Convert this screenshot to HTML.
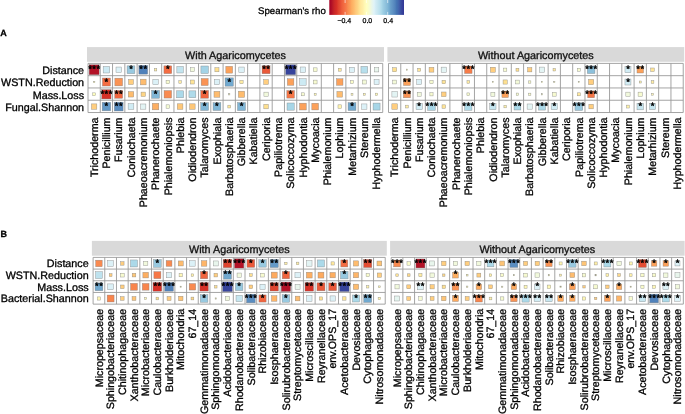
<!DOCTYPE html>
<html><head><meta charset="utf-8"><style>
html,body{margin:0;padding:0;background:#fff;}
svg{display:block;will-change:transform;}
text{font-family:"Liberation Sans",sans-serif;text-rendering:geometricPrecision;stroke:currentColor;stroke-width:0.3px;}
</style></head><body>
<svg width="685" height="414" viewBox="0 0 685 414">
<rect width="685" height="414" fill="#fff"/>
<defs><linearGradient id="cb" x1="0" x2="1" y1="0" y2="0">
<stop offset="0" stop-color="#a50026"/>
<stop offset="0.03" stop-color="#b11027"/>
<stop offset="0.05" stop-color="#be1d27"/>
<stop offset="0.07" stop-color="#ca2727"/>
<stop offset="0.1" stop-color="#d73027"/>
<stop offset="0.12" stop-color="#de422e"/>
<stop offset="0.15" stop-color="#e65135"/>
<stop offset="0.17" stop-color="#ed5f3c"/>
<stop offset="0.2" stop-color="#f46d43"/>
<stop offset="0.23" stop-color="#f77e4a"/>
<stop offset="0.25" stop-color="#f98f52"/>
<stop offset="0.28" stop-color="#fb9f59"/>
<stop offset="0.3" stop-color="#fdae61"/>
<stop offset="0.33" stop-color="#febb6d"/>
<stop offset="0.35" stop-color="#fec778"/>
<stop offset="0.38" stop-color="#fed484"/>
<stop offset="0.4" stop-color="#fee090"/>
<stop offset="0.42" stop-color="#ffe89c"/>
<stop offset="0.45" stop-color="#ffefa7"/>
<stop offset="0.47" stop-color="#fff7b3"/>
<stop offset="0.5" stop-color="#ffffbf"/>
<stop offset="0.53" stop-color="#f8fcce"/>
<stop offset="0.55" stop-color="#f1f9dc"/>
<stop offset="0.57" stop-color="#e9f6ea"/>
<stop offset="0.6" stop-color="#e0f3f8"/>
<stop offset="0.62" stop-color="#d3ecf4"/>
<stop offset="0.65" stop-color="#c6e6f0"/>
<stop offset="0.68" stop-color="#b9dfed"/>
<stop offset="0.7" stop-color="#abd9e9"/>
<stop offset="0.72" stop-color="#9ecee3"/>
<stop offset="0.75" stop-color="#90c3dd"/>
<stop offset="0.78" stop-color="#82b8d7"/>
<stop offset="0.8" stop-color="#74add1"/>
<stop offset="0.82" stop-color="#699fca"/>
<stop offset="0.85" stop-color="#5e91c3"/>
<stop offset="0.88" stop-color="#5283bb"/>
<stop offset="0.9" stop-color="#4575b4"/>
<stop offset="0.93" stop-color="#4265ac"/>
<stop offset="0.95" stop-color="#3d55a5"/>
<stop offset="0.97" stop-color="#38469d"/>
<stop offset="1" stop-color="#313695"/>
</linearGradient></defs>
<rect x="329.3" y="0" width="74.7" height="14.9" fill="url(#cb)"/>
<path d="M345.12 0V3M345.12 11.9V14.9" stroke="#fff" stroke-width="0.6"/>
<path d="M366.4 0V3M366.4 11.9V14.9" stroke="#fff" stroke-width="0.6"/>
<path d="M387.68 0V3M387.68 11.9V14.9" stroke="#fff" stroke-width="0.6"/>
<text x="344.3" y="22.6" text-anchor="middle" font-size="7" fill="#333">−0.4</text>
<text x="367.4" y="22.6" text-anchor="middle" font-size="7" fill="#333">0.0</text>
<text x="388.2" y="22.6" text-anchor="middle" font-size="7" fill="#333">0.4</text>
<text x="258.1" y="13.9" font-size="9.65" fill="#000">Spearman's rho</text>
<text x="0.3" y="35.8" font-size="9" font-weight="bold" fill="#000">A</text>
<text x="0.6" y="236.6" font-size="9" font-weight="bold" fill="#000">B</text>
<rect x="87" y="47.1" width="297" height="14.7" fill="#d9d9d9"/>
<text x="235.5" y="59.1" text-anchor="middle" font-size="10.8" fill="#1a1a1a">With Agaricomycetes</text>
<rect x="88" y="63.4" width="294.72" height="49.12" fill="#fff"/>
<rect x="89.14" y="64.74" width="10" height="10" fill="#b31227" stroke="#7a7a7a" stroke-opacity="0.8" stroke-width="0.45"/>
<rect x="103.17" y="66.49" width="6.5" height="6.5" fill="#cdeaf3" stroke="#7a7a7a" stroke-opacity="0.8" stroke-width="0.45"/>
<rect x="116" y="67.04" width="5.4" height="5.4" fill="#dcf1f7" stroke="#7a7a7a" stroke-opacity="0.8" stroke-width="0.45"/>
<rect x="127.08" y="65.84" width="7.8" height="7.8" fill="#98c9e0" stroke="#7a7a7a" stroke-opacity="0.8" stroke-width="0.45"/>
<rect x="138.86" y="65.34" width="8.8" height="8.8" fill="#5081ba" stroke="#7a7a7a" stroke-opacity="0.8" stroke-width="0.45"/>
<rect x="154.29" y="68.49" width="2.5" height="2.5" fill="#ffefa7" stroke="#7a7a7a" stroke-opacity="0.8" stroke-width="0.45"/>
<rect x="163.92" y="65.84" width="7.8" height="7.8" fill="#f46d43" stroke="#7a7a7a" stroke-opacity="0.8" stroke-width="0.45"/>
<rect x="176.85" y="66.49" width="6.5" height="6.5" fill="#c2e4ef" stroke="#7a7a7a" stroke-opacity="0.8" stroke-width="0.45"/>
<rect x="190.38" y="67.74" width="4" height="4" fill="#f1f9dc" stroke="#7a7a7a" stroke-opacity="0.8" stroke-width="0.45"/>
<rect x="200.91" y="65.99" width="7.5" height="7.5" fill="#a3d3e6" stroke="#7a7a7a" stroke-opacity="0.8" stroke-width="0.45"/>
<rect x="214.89" y="67.69" width="4.1" height="4.1" fill="#fee090" stroke="#7a7a7a" stroke-opacity="0.8" stroke-width="0.45"/>
<rect x="225.82" y="66.34" width="6.8" height="6.8" fill="#fca15a" stroke="#7a7a7a" stroke-opacity="0.8" stroke-width="0.45"/>
<rect x="238.8" y="67.04" width="5.4" height="5.4" fill="#dcf1f7" stroke="#7a7a7a" stroke-opacity="0.8" stroke-width="0.45"/>
<rect x="262.06" y="65.74" width="8" height="8" fill="#ea5939" stroke="#7a7a7a" stroke-opacity="0.8" stroke-width="0.45"/>
<rect x="285.62" y="64.74" width="10" height="10" fill="#37449c" stroke="#7a7a7a" stroke-opacity="0.8" stroke-width="0.45"/>
<rect x="300.15" y="66.99" width="5.5" height="5.5" fill="#dcf1f7" stroke="#7a7a7a" stroke-opacity="0.8" stroke-width="0.45"/>
<rect x="313.28" y="67.84" width="3.8" height="3.8" fill="#f7fbd0" stroke="#7a7a7a" stroke-opacity="0.8" stroke-width="0.45"/>
<rect x="338.29" y="68.29" width="2.9" height="2.9" fill="#ffe99d" stroke="#7a7a7a" stroke-opacity="0.8" stroke-width="0.45"/>
<rect x="349.52" y="67.24" width="5" height="5" fill="#dcf1f7" stroke="#7a7a7a" stroke-opacity="0.8" stroke-width="0.45"/>
<rect x="360.95" y="66.39" width="6.7" height="6.7" fill="#b7dfec" stroke="#7a7a7a" stroke-opacity="0.8" stroke-width="0.45"/>
<rect x="374.38" y="67.54" width="4.4" height="4.4" fill="#e8f5ec" stroke="#7a7a7a" stroke-opacity="0.8" stroke-width="0.45"/>
<rect x="93.39" y="81.27" width="1.5" height="1.5" fill="#fffbb8" stroke="#7a7a7a" stroke-opacity="0.8" stroke-width="0.45"/>
<rect x="102.42" y="78.02" width="8" height="8" fill="#f46d43" stroke="#7a7a7a" stroke-opacity="0.8" stroke-width="0.45"/>
<rect x="114.85" y="78.17" width="7.7" height="7.7" fill="#fa9354" stroke="#7a7a7a" stroke-opacity="0.8" stroke-width="0.45"/>
<rect x="128.48" y="79.52" width="5" height="5" fill="#ffce7f" stroke="#7a7a7a" stroke-opacity="0.8" stroke-width="0.45"/>
<rect x="140.41" y="79.17" width="5.7" height="5.7" fill="#febc6e" stroke="#7a7a7a" stroke-opacity="0.8" stroke-width="0.45"/>
<rect x="152.84" y="79.32" width="5.4" height="5.4" fill="#dcf1f7" stroke="#7a7a7a" stroke-opacity="0.8" stroke-width="0.45"/>
<rect x="166.07" y="80.27" width="3.5" height="3.5" fill="#f7fbd0" stroke="#7a7a7a" stroke-opacity="0.8" stroke-width="0.45"/>
<rect x="178.8" y="80.72" width="2.6" height="2.6" fill="#ffeda4" stroke="#7a7a7a" stroke-opacity="0.8" stroke-width="0.45"/>
<rect x="190.38" y="80.02" width="4" height="4" fill="#fee497" stroke="#7a7a7a" stroke-opacity="0.8" stroke-width="0.45"/>
<rect x="201.16" y="78.52" width="7" height="7" fill="#fa9354" stroke="#7a7a7a" stroke-opacity="0.8" stroke-width="0.45"/>
<rect x="214.29" y="79.37" width="5.3" height="5.3" fill="#dcf1f7" stroke="#7a7a7a" stroke-opacity="0.8" stroke-width="0.45"/>
<rect x="225.07" y="77.87" width="8.3" height="8.3" fill="#71a9cf" stroke="#7a7a7a" stroke-opacity="0.8" stroke-width="0.45"/>
<rect x="239.85" y="80.37" width="3.3" height="3.3" fill="#ffeda4" stroke="#7a7a7a" stroke-opacity="0.8" stroke-width="0.45"/>
<rect x="263.66" y="79.62" width="4.8" height="4.8" fill="#ffce7f" stroke="#7a7a7a" stroke-opacity="0.8" stroke-width="0.45"/>
<rect x="287.37" y="78.77" width="6.5" height="6.5" fill="#fca15a" stroke="#7a7a7a" stroke-opacity="0.8" stroke-width="0.45"/>
<rect x="299.65" y="78.77" width="6.5" height="6.5" fill="#cdeaf3" stroke="#7a7a7a" stroke-opacity="0.8" stroke-width="0.45"/>
<rect x="313.28" y="80.12" width="3.8" height="3.8" fill="#f7fbd0" stroke="#7a7a7a" stroke-opacity="0.8" stroke-width="0.45"/>
<rect x="336.49" y="78.77" width="6.5" height="6.5" fill="#fca15a" stroke="#7a7a7a" stroke-opacity="0.8" stroke-width="0.45"/>
<rect x="350.57" y="80.57" width="2.9" height="2.9" fill="#fbfdc7" stroke="#7a7a7a" stroke-opacity="0.8" stroke-width="0.45"/>
<rect x="362.3" y="80.02" width="4" height="4" fill="#f3fad8" stroke="#7a7a7a" stroke-opacity="0.8" stroke-width="0.45"/>
<rect x="374.08" y="79.52" width="5" height="5" fill="#dcf1f7" stroke="#7a7a7a" stroke-opacity="0.8" stroke-width="0.45"/>
<rect x="92.69" y="92.85" width="2.9" height="2.9" fill="#ffffbf" stroke="#7a7a7a" stroke-opacity="0.8" stroke-width="0.45"/>
<rect x="101.77" y="89.65" width="9.3" height="9.3" fill="#d73027" stroke="#7a7a7a" stroke-opacity="0.8" stroke-width="0.45"/>
<rect x="114.75" y="90.35" width="7.9" height="7.9" fill="#f0653f" stroke="#7a7a7a" stroke-opacity="0.8" stroke-width="0.45"/>
<rect x="128.23" y="91.55" width="5.5" height="5.5" fill="#febc6e" stroke="#7a7a7a" stroke-opacity="0.8" stroke-width="0.45"/>
<rect x="141.06" y="92.1" width="4.4" height="4.4" fill="#fed586" stroke="#7a7a7a" stroke-opacity="0.8" stroke-width="0.45"/>
<rect x="151.59" y="90.35" width="7.9" height="7.9" fill="#80b6d6" stroke="#7a7a7a" stroke-opacity="0.8" stroke-width="0.45"/>
<rect x="164.07" y="90.55" width="7.5" height="7.5" fill="#f98a50" stroke="#7a7a7a" stroke-opacity="0.8" stroke-width="0.45"/>
<rect x="176.6" y="90.8" width="7" height="7" fill="#abd9e9" stroke="#7a7a7a" stroke-opacity="0.8" stroke-width="0.45"/>
<rect x="188.93" y="90.85" width="6.9" height="6.9" fill="#afdbea" stroke="#7a7a7a" stroke-opacity="0.8" stroke-width="0.45"/>
<rect x="200.76" y="90.4" width="7.8" height="7.8" fill="#f0653f" stroke="#7a7a7a" stroke-opacity="0.8" stroke-width="0.45"/>
<rect x="213.99" y="91.35" width="5.9" height="5.9" fill="#febc6e" stroke="#7a7a7a" stroke-opacity="0.8" stroke-width="0.45"/>
<rect x="228.57" y="93.65" width="1.3" height="1.3" fill="#fffbb8" stroke="#7a7a7a" stroke-opacity="0.8" stroke-width="0.45"/>
<rect x="238.4" y="91.2" width="6.2" height="6.2" fill="#febc6e" stroke="#7a7a7a" stroke-opacity="0.8" stroke-width="0.45"/>
<rect x="263.91" y="92.15" width="4.3" height="4.3" fill="#f1f9dc" stroke="#7a7a7a" stroke-opacity="0.8" stroke-width="0.45"/>
<rect x="286.82" y="90.5" width="7.6" height="7.6" fill="#f67747" stroke="#7a7a7a" stroke-opacity="0.8" stroke-width="0.45"/>
<rect x="301.4" y="92.8" width="3" height="3" fill="#f7fbd0" stroke="#7a7a7a" stroke-opacity="0.8" stroke-width="0.45"/>
<rect x="314.18" y="93.3" width="2" height="2" fill="#fff8b5" stroke="#7a7a7a" stroke-opacity="0.8" stroke-width="0.45"/>
<rect x="336.89" y="91.45" width="5.7" height="5.7" fill="#febc6e" stroke="#7a7a7a" stroke-opacity="0.8" stroke-width="0.45"/>
<rect x="351.07" y="93.35" width="1.9" height="1.9" fill="#fff8b5" stroke="#7a7a7a" stroke-opacity="0.8" stroke-width="0.45"/>
<rect x="363.3" y="93.3" width="2" height="2" fill="#fff4ae" stroke="#7a7a7a" stroke-opacity="0.8" stroke-width="0.45"/>
<rect x="375.43" y="93.15" width="2.3" height="2.3" fill="#fff8b5" stroke="#7a7a7a" stroke-opacity="0.8" stroke-width="0.45"/>
<rect x="91.44" y="103.88" width="5.4" height="5.4" fill="#ffce7f" stroke="#7a7a7a" stroke-opacity="0.8" stroke-width="0.45"/>
<rect x="102.17" y="102.33" width="8.5" height="8.5" fill="#6499c7" stroke="#7a7a7a" stroke-opacity="0.8" stroke-width="0.45"/>
<rect x="114.3" y="102.18" width="8.8" height="8.8" fill="#5a8dc0" stroke="#7a7a7a" stroke-opacity="0.8" stroke-width="0.45"/>
<rect x="128.13" y="103.73" width="5.7" height="5.7" fill="#d1ecf4" stroke="#7a7a7a" stroke-opacity="0.8" stroke-width="0.45"/>
<rect x="140.66" y="103.98" width="5.2" height="5.2" fill="#e3f4f4" stroke="#7a7a7a" stroke-opacity="0.8" stroke-width="0.45"/>
<rect x="152.29" y="103.33" width="6.5" height="6.5" fill="#fdae61" stroke="#7a7a7a" stroke-opacity="0.8" stroke-width="0.45"/>
<rect x="166.07" y="104.83" width="3.5" height="3.5" fill="#f5fbd4" stroke="#7a7a7a" stroke-opacity="0.8" stroke-width="0.45"/>
<rect x="177.3" y="103.78" width="5.6" height="5.6" fill="#fec778" stroke="#7a7a7a" stroke-opacity="0.8" stroke-width="0.45"/>
<rect x="189.63" y="103.83" width="5.5" height="5.5" fill="#fec778" stroke="#7a7a7a" stroke-opacity="0.8" stroke-width="0.45"/>
<rect x="200.76" y="102.68" width="7.8" height="7.8" fill="#80b6d6" stroke="#7a7a7a" stroke-opacity="0.8" stroke-width="0.45"/>
<rect x="213.04" y="102.68" width="7.8" height="7.8" fill="#80b6d6" stroke="#7a7a7a" stroke-opacity="0.8" stroke-width="0.45"/>
<rect x="227.82" y="105.18" width="2.8" height="2.8" fill="#ffe99d" stroke="#7a7a7a" stroke-opacity="0.8" stroke-width="0.45"/>
<rect x="237.5" y="102.58" width="8" height="8" fill="#80b6d6" stroke="#7a7a7a" stroke-opacity="0.8" stroke-width="0.45"/>
<rect x="263.81" y="104.33" width="4.5" height="4.5" fill="#fee090" stroke="#7a7a7a" stroke-opacity="0.8" stroke-width="0.45"/>
<rect x="287.02" y="102.98" width="7.2" height="7.2" fill="#a7d6e7" stroke="#7a7a7a" stroke-opacity="0.8" stroke-width="0.45"/>
<rect x="299.5" y="103.18" width="6.8" height="6.8" fill="#fca15a" stroke="#7a7a7a" stroke-opacity="0.8" stroke-width="0.45"/>
<rect x="311.83" y="103.23" width="6.7" height="6.7" fill="#fca15a" stroke="#7a7a7a" stroke-opacity="0.8" stroke-width="0.45"/>
<rect x="337.99" y="104.83" width="3.5" height="3.5" fill="#fff4ae" stroke="#7a7a7a" stroke-opacity="0.8" stroke-width="0.45"/>
<rect x="348.07" y="102.63" width="7.9" height="7.9" fill="#71a9cf" stroke="#7a7a7a" stroke-opacity="0.8" stroke-width="0.45"/>
<rect x="361.65" y="103.93" width="5.3" height="5.3" fill="#dcf1f7" stroke="#7a7a7a" stroke-opacity="0.8" stroke-width="0.45"/>
<rect x="373.08" y="103.08" width="7" height="7" fill="#a7d6e7" stroke="#7a7a7a" stroke-opacity="0.8" stroke-width="0.45"/>
<path d="M88 63.4V112.52M100.28 63.4V112.52M112.56 63.4V112.52M124.84 63.4V112.52M137.12 63.4V112.52M149.4 63.4V112.52M161.68 63.4V112.52M173.96 63.4V112.52M186.24 63.4V112.52M198.52 63.4V112.52M210.8 63.4V112.52M223.08 63.4V112.52M235.36 63.4V112.52M247.64 63.4V112.52M259.92 63.4V112.52M272.2 63.4V112.52M284.48 63.4V112.52M296.76 63.4V112.52M309.04 63.4V112.52M321.32 63.4V112.52M333.6 63.4V112.52M345.88 63.4V112.52M358.16 63.4V112.52M370.44 63.4V112.52M382.72 63.4V112.52M88 63.4H382.72M88 75.68H382.72M88 87.96H382.72M88 100.24H382.72M88 112.52H382.72" stroke="#9a9a9a" stroke-width="0.9" fill="none"/>
<text x="89.99" y="72.44" text-anchor="middle" font-size="9.4" fill="#000" style="stroke-width:0.42px">*</text>
<text x="94.14" y="72.44" text-anchor="middle" font-size="9.4" fill="#000" style="stroke-width:0.42px">*</text>
<text x="98.29" y="72.44" text-anchor="middle" font-size="9.4" fill="#000" style="stroke-width:0.42px">*</text>
<text x="130.98" y="72.44" text-anchor="middle" font-size="9.4" fill="#000" style="stroke-width:0.42px">*</text>
<text x="141.19" y="72.44" text-anchor="middle" font-size="9.4" fill="#000" style="stroke-width:0.42px">*</text>
<text x="145.33" y="72.44" text-anchor="middle" font-size="9.4" fill="#000" style="stroke-width:0.42px">*</text>
<text x="167.82" y="72.44" text-anchor="middle" font-size="9.4" fill="#000" style="stroke-width:0.42px">*</text>
<text x="263.99" y="72.44" text-anchor="middle" font-size="9.4" fill="#000" style="stroke-width:0.42px">*</text>
<text x="268.13" y="72.44" text-anchor="middle" font-size="9.4" fill="#000" style="stroke-width:0.42px">*</text>
<text x="286.47" y="72.44" text-anchor="middle" font-size="9.4" fill="#000" style="stroke-width:0.42px">*</text>
<text x="290.62" y="72.44" text-anchor="middle" font-size="9.4" fill="#000" style="stroke-width:0.42px">*</text>
<text x="294.77" y="72.44" text-anchor="middle" font-size="9.4" fill="#000" style="stroke-width:0.42px">*</text>
<text x="106.42" y="84.72" text-anchor="middle" font-size="9.4" fill="#000" style="stroke-width:0.42px">*</text>
<text x="229.22" y="84.72" text-anchor="middle" font-size="9.4" fill="#000" style="stroke-width:0.42px">*</text>
<text x="102.27" y="97" text-anchor="middle" font-size="9.4" fill="#000" style="stroke-width:0.42px">*</text>
<text x="106.42" y="97" text-anchor="middle" font-size="9.4" fill="#000" style="stroke-width:0.42px">*</text>
<text x="110.57" y="97" text-anchor="middle" font-size="9.4" fill="#000" style="stroke-width:0.42px">*</text>
<text x="116.62" y="97" text-anchor="middle" font-size="9.4" fill="#000" style="stroke-width:0.42px">*</text>
<text x="120.78" y="97" text-anchor="middle" font-size="9.4" fill="#000" style="stroke-width:0.42px">*</text>
<text x="155.54" y="97" text-anchor="middle" font-size="9.4" fill="#000" style="stroke-width:0.42px">*</text>
<text x="204.66" y="97" text-anchor="middle" font-size="9.4" fill="#000" style="stroke-width:0.42px">*</text>
<text x="290.62" y="97" text-anchor="middle" font-size="9.4" fill="#000" style="stroke-width:0.42px">*</text>
<text x="106.42" y="109.28" text-anchor="middle" font-size="9.4" fill="#000" style="stroke-width:0.42px">*</text>
<text x="116.62" y="109.28" text-anchor="middle" font-size="9.4" fill="#000" style="stroke-width:0.42px">*</text>
<text x="120.78" y="109.28" text-anchor="middle" font-size="9.4" fill="#000" style="stroke-width:0.42px">*</text>
<text x="204.66" y="109.28" text-anchor="middle" font-size="9.4" fill="#000" style="stroke-width:0.42px">*</text>
<text x="216.94" y="109.28" text-anchor="middle" font-size="9.4" fill="#000" style="stroke-width:0.42px">*</text>
<text x="241.5" y="109.28" text-anchor="middle" font-size="9.4" fill="#000" style="stroke-width:0.42px">*</text>
<text x="352.02" y="109.28" text-anchor="middle" font-size="9.4" fill="#000" style="stroke-width:0.42px">*</text>
<text transform="translate(97.84 117.5) rotate(-90)" text-anchor="end" font-size="10.7" fill="#000">Trichoderma</text>
<text transform="translate(110.12 117.5) rotate(-90)" text-anchor="end" font-size="10.7" fill="#000">Penicillium</text>
<text transform="translate(122.4 117.5) rotate(-90)" text-anchor="end" font-size="10.7" fill="#000">Fusarium</text>
<text transform="translate(134.68 117.5) rotate(-90)" text-anchor="end" font-size="10.7" fill="#000">Coniochaeta</text>
<text transform="translate(146.96 117.5) rotate(-90)" text-anchor="end" font-size="10.7" fill="#000">Phaeoacremonium</text>
<text transform="translate(159.24 117.5) rotate(-90)" text-anchor="end" font-size="10.7" fill="#000">Phanerochaete</text>
<text transform="translate(171.52 117.5) rotate(-90)" text-anchor="end" font-size="10.7" fill="#000">Phialemoniopsis</text>
<text transform="translate(183.8 117.5) rotate(-90)" text-anchor="end" font-size="10.7" fill="#000">Phlebia</text>
<text transform="translate(196.08 117.5) rotate(-90)" text-anchor="end" font-size="10.7" fill="#000">Oidiodendron</text>
<text transform="translate(208.36 117.5) rotate(-90)" text-anchor="end" font-size="10.7" fill="#000">Talaromyces</text>
<text transform="translate(220.64 117.5) rotate(-90)" text-anchor="end" font-size="10.7" fill="#000">Exophiala</text>
<text transform="translate(232.92 117.5) rotate(-90)" text-anchor="end" font-size="10.7" fill="#000">Barbatosphaeria</text>
<text transform="translate(245.2 117.5) rotate(-90)" text-anchor="end" font-size="10.7" fill="#000">Gibberella</text>
<text transform="translate(257.48 117.5) rotate(-90)" text-anchor="end" font-size="10.7" fill="#000">Kabatiella</text>
<text transform="translate(269.76 117.5) rotate(-90)" text-anchor="end" font-size="10.7" fill="#000">Ceriporia</text>
<text transform="translate(282.04 117.5) rotate(-90)" text-anchor="end" font-size="10.7" fill="#000">Papiliotrema</text>
<text transform="translate(294.32 117.5) rotate(-90)" text-anchor="end" font-size="10.7" fill="#000">Solicoccozyma</text>
<text transform="translate(306.6 117.5) rotate(-90)" text-anchor="end" font-size="10.7" fill="#000">Hyphodontia</text>
<text transform="translate(318.88 117.5) rotate(-90)" text-anchor="end" font-size="10.7" fill="#000">Mycoacia</text>
<text transform="translate(331.16 117.5) rotate(-90)" text-anchor="end" font-size="10.7" fill="#000">Phialemonium</text>
<text transform="translate(343.44 117.5) rotate(-90)" text-anchor="end" font-size="10.7" fill="#000">Lophium</text>
<text transform="translate(355.72 117.5) rotate(-90)" text-anchor="end" font-size="10.7" fill="#000">Metarhizium</text>
<text transform="translate(368 117.5) rotate(-90)" text-anchor="end" font-size="10.7" fill="#000">Stereum</text>
<text transform="translate(380.28 117.5) rotate(-90)" text-anchor="end" font-size="10.7" fill="#000">Hyphodermella</text>
<rect x="387.4" y="47.1" width="296.8" height="14.7" fill="#d9d9d9"/>
<text x="535.8" y="59.1" text-anchor="middle" font-size="10.8" fill="#1a1a1a">Without Agaricomycetes</text>
<rect x="388.5" y="63.4" width="294.72" height="49.12" fill="#fff"/>
<rect x="392.64" y="67.74" width="4" height="4" fill="#fee090" stroke="#7a7a7a" stroke-opacity="0.8" stroke-width="0.45"/>
<rect x="406.27" y="69.09" width="1.3" height="1.3" fill="#fffdbc" stroke="#7a7a7a" stroke-opacity="0.8" stroke-width="0.45"/>
<rect x="417.7" y="68.24" width="3" height="3" fill="#fee497" stroke="#7a7a7a" stroke-opacity="0.8" stroke-width="0.45"/>
<rect x="429.08" y="67.34" width="4.8" height="4.8" fill="#ffce7f" stroke="#7a7a7a" stroke-opacity="0.8" stroke-width="0.45"/>
<rect x="441.16" y="67.14" width="5.2" height="5.2" fill="#e3f4f4" stroke="#7a7a7a" stroke-opacity="0.8" stroke-width="0.45"/>
<rect x="464.57" y="65.99" width="7.5" height="7.5" fill="#f67c49" stroke="#7a7a7a" stroke-opacity="0.8" stroke-width="0.45"/>
<rect x="490.38" y="67.24" width="5" height="5" fill="#ffce7f" stroke="#7a7a7a" stroke-opacity="0.8" stroke-width="0.45"/>
<rect x="503.51" y="68.09" width="3.3" height="3.3" fill="#f7fbd0" stroke="#7a7a7a" stroke-opacity="0.8" stroke-width="0.45"/>
<rect x="515.99" y="68.29" width="2.9" height="2.9" fill="#fee090" stroke="#7a7a7a" stroke-opacity="0.8" stroke-width="0.45"/>
<rect x="527.57" y="67.59" width="4.3" height="4.3" fill="#ffce7f" stroke="#7a7a7a" stroke-opacity="0.8" stroke-width="0.45"/>
<rect x="539.35" y="67.09" width="5.3" height="5.3" fill="#e3f4f4" stroke="#7a7a7a" stroke-opacity="0.8" stroke-width="0.45"/>
<rect x="553.03" y="68.49" width="2.5" height="2.5" fill="#ffe99d" stroke="#7a7a7a" stroke-opacity="0.8" stroke-width="0.45"/>
<rect x="577.34" y="68.24" width="3" height="3" fill="#f7fbd0" stroke="#7a7a7a" stroke-opacity="0.8" stroke-width="0.45"/>
<rect x="587.32" y="65.94" width="7.6" height="7.6" fill="#8cc0db" stroke="#7a7a7a" stroke-opacity="0.8" stroke-width="0.45"/>
<rect x="624.96" y="66.74" width="6" height="6" fill="#d1ecf4" stroke="#7a7a7a" stroke-opacity="0.8" stroke-width="0.45"/>
<rect x="636.99" y="66.49" width="6.5" height="6.5" fill="#fca15a" stroke="#7a7a7a" stroke-opacity="0.8" stroke-width="0.45"/>
<rect x="650.77" y="67.99" width="3.5" height="3.5" fill="#fee497" stroke="#7a7a7a" stroke-opacity="0.8" stroke-width="0.45"/>
<rect x="392.74" y="80.12" width="3.8" height="3.8" fill="#f3fad8" stroke="#7a7a7a" stroke-opacity="0.8" stroke-width="0.45"/>
<rect x="403.47" y="78.57" width="6.9" height="6.9" fill="#fca15a" stroke="#7a7a7a" stroke-opacity="0.8" stroke-width="0.45"/>
<rect x="416.7" y="79.52" width="5" height="5" fill="#dcf1f7" stroke="#7a7a7a" stroke-opacity="0.8" stroke-width="0.45"/>
<rect x="429.83" y="80.37" width="3.3" height="3.3" fill="#f7fbd0" stroke="#7a7a7a" stroke-opacity="0.8" stroke-width="0.45"/>
<rect x="442.01" y="80.27" width="3.5" height="3.5" fill="#fee497" stroke="#7a7a7a" stroke-opacity="0.8" stroke-width="0.45"/>
<rect x="466.97" y="80.67" width="2.7" height="2.7" fill="#ffeda4" stroke="#7a7a7a" stroke-opacity="0.8" stroke-width="0.45"/>
<rect x="492.23" y="81.37" width="1.3" height="1.3" fill="#fffdbc" stroke="#7a7a7a" stroke-opacity="0.8" stroke-width="0.45"/>
<rect x="503.06" y="79.92" width="4.2" height="4.2" fill="#fee090" stroke="#7a7a7a" stroke-opacity="0.8" stroke-width="0.45"/>
<rect x="515.54" y="80.12" width="3.8" height="3.8" fill="#f3fad8" stroke="#7a7a7a" stroke-opacity="0.8" stroke-width="0.45"/>
<rect x="528.57" y="80.87" width="2.3" height="2.3" fill="#fbfdc7" stroke="#7a7a7a" stroke-opacity="0.8" stroke-width="0.45"/>
<rect x="541.35" y="81.37" width="1.3" height="1.3" fill="#fffdbc" stroke="#7a7a7a" stroke-opacity="0.8" stroke-width="0.45"/>
<rect x="553.63" y="81.37" width="1.3" height="1.3" fill="#fffdbc" stroke="#7a7a7a" stroke-opacity="0.8" stroke-width="0.45"/>
<rect x="578.19" y="81.37" width="1.3" height="1.3" fill="#fdfec3" stroke="#7a7a7a" stroke-opacity="0.8" stroke-width="0.45"/>
<rect x="588.47" y="79.37" width="5.3" height="5.3" fill="#ffce7f" stroke="#7a7a7a" stroke-opacity="0.8" stroke-width="0.45"/>
<rect x="624.96" y="79.02" width="6" height="6" fill="#d1ecf4" stroke="#7a7a7a" stroke-opacity="0.8" stroke-width="0.45"/>
<rect x="639.24" y="81.02" width="2" height="2" fill="#fff4ae" stroke="#7a7a7a" stroke-opacity="0.8" stroke-width="0.45"/>
<rect x="651.17" y="80.67" width="2.7" height="2.7" fill="#ffeda4" stroke="#7a7a7a" stroke-opacity="0.8" stroke-width="0.45"/>
<rect x="391.89" y="91.55" width="5.5" height="5.5" fill="#e3f4f4" stroke="#7a7a7a" stroke-opacity="0.8" stroke-width="0.45"/>
<rect x="403.42" y="90.8" width="7" height="7" fill="#fa9354" stroke="#7a7a7a" stroke-opacity="0.8" stroke-width="0.45"/>
<rect x="417.2" y="92.3" width="4" height="4" fill="#f1f9dc" stroke="#7a7a7a" stroke-opacity="0.8" stroke-width="0.45"/>
<rect x="429.88" y="92.7" width="3.2" height="3.2" fill="#f7fbd0" stroke="#7a7a7a" stroke-opacity="0.8" stroke-width="0.45"/>
<rect x="441.46" y="92" width="4.6" height="4.6" fill="#ffce7f" stroke="#7a7a7a" stroke-opacity="0.8" stroke-width="0.45"/>
<rect x="466.92" y="92.9" width="2.8" height="2.8" fill="#f7fbd0" stroke="#7a7a7a" stroke-opacity="0.8" stroke-width="0.45"/>
<rect x="490.88" y="92.3" width="4" height="4" fill="#f1f9dc" stroke="#7a7a7a" stroke-opacity="0.8" stroke-width="0.45"/>
<rect x="501.91" y="91.05" width="6.5" height="6.5" fill="#fca15a" stroke="#7a7a7a" stroke-opacity="0.8" stroke-width="0.45"/>
<rect x="516.19" y="93.05" width="2.5" height="2.5" fill="#f7fbd0" stroke="#7a7a7a" stroke-opacity="0.8" stroke-width="0.45"/>
<rect x="528.57" y="93.15" width="2.3" height="2.3" fill="#fbfdc7" stroke="#7a7a7a" stroke-opacity="0.8" stroke-width="0.45"/>
<rect x="541.35" y="93.65" width="1.3" height="1.3" fill="#fdfec3" stroke="#7a7a7a" stroke-opacity="0.8" stroke-width="0.45"/>
<rect x="552.38" y="92.4" width="3.8" height="3.8" fill="#f7fbd0" stroke="#7a7a7a" stroke-opacity="0.8" stroke-width="0.45"/>
<rect x="577.34" y="92.8" width="3" height="3" fill="#ffe99d" stroke="#7a7a7a" stroke-opacity="0.8" stroke-width="0.45"/>
<rect x="587.67" y="90.85" width="6.9" height="6.9" fill="#f67747" stroke="#7a7a7a" stroke-opacity="0.8" stroke-width="0.45"/>
<rect x="625.81" y="92.15" width="4.3" height="4.3" fill="#f1f9dc" stroke="#7a7a7a" stroke-opacity="0.8" stroke-width="0.45"/>
<rect x="638.09" y="92.15" width="4.3" height="4.3" fill="#f7fbd0" stroke="#7a7a7a" stroke-opacity="0.8" stroke-width="0.45"/>
<rect x="651.62" y="93.4" width="1.8" height="1.8" fill="#fff6b1" stroke="#7a7a7a" stroke-opacity="0.8" stroke-width="0.45"/>
<rect x="391.84" y="103.78" width="5.6" height="5.6" fill="#ffce7f" stroke="#7a7a7a" stroke-opacity="0.8" stroke-width="0.45"/>
<rect x="405.52" y="105.18" width="2.8" height="2.8" fill="#ffeda4" stroke="#7a7a7a" stroke-opacity="0.8" stroke-width="0.45"/>
<rect x="416.05" y="103.43" width="6.3" height="6.3" fill="#d1ecf4" stroke="#7a7a7a" stroke-opacity="0.8" stroke-width="0.45"/>
<rect x="427.73" y="102.83" width="7.5" height="7.5" fill="#a7d6e7" stroke="#7a7a7a" stroke-opacity="0.8" stroke-width="0.45"/>
<rect x="442.01" y="104.83" width="3.5" height="3.5" fill="#fee497" stroke="#7a7a7a" stroke-opacity="0.8" stroke-width="0.45"/>
<rect x="464.67" y="102.93" width="7.3" height="7.3" fill="#afdbea" stroke="#7a7a7a" stroke-opacity="0.8" stroke-width="0.45"/>
<rect x="489.73" y="103.43" width="6.3" height="6.3" fill="#c6e6f0" stroke="#7a7a7a" stroke-opacity="0.8" stroke-width="0.45"/>
<rect x="503.91" y="105.33" width="2.5" height="2.5" fill="#fff2ab" stroke="#7a7a7a" stroke-opacity="0.8" stroke-width="0.45"/>
<rect x="514.04" y="103.18" width="6.8" height="6.8" fill="#abd9e9" stroke="#7a7a7a" stroke-opacity="0.8" stroke-width="0.45"/>
<rect x="527.12" y="103.98" width="5.2" height="5.2" fill="#e3f4f4" stroke="#7a7a7a" stroke-opacity="0.8" stroke-width="0.45"/>
<rect x="538.5" y="103.08" width="7" height="7" fill="#abd9e9" stroke="#7a7a7a" stroke-opacity="0.8" stroke-width="0.45"/>
<rect x="551.13" y="103.43" width="6.3" height="6.3" fill="#d1ecf4" stroke="#7a7a7a" stroke-opacity="0.8" stroke-width="0.45"/>
<rect x="574.94" y="102.68" width="7.8" height="7.8" fill="#98c9e0" stroke="#7a7a7a" stroke-opacity="0.8" stroke-width="0.45"/>
<rect x="588.87" y="104.33" width="4.5" height="4.5" fill="#ffce7f" stroke="#7a7a7a" stroke-opacity="0.8" stroke-width="0.45"/>
<rect x="626.51" y="105.13" width="2.9" height="2.9" fill="#fff2ab" stroke="#7a7a7a" stroke-opacity="0.8" stroke-width="0.45"/>
<rect x="636.99" y="103.33" width="6.5" height="6.5" fill="#c6e6f0" stroke="#7a7a7a" stroke-opacity="0.8" stroke-width="0.45"/>
<rect x="649.52" y="103.58" width="6" height="6" fill="#c6e6f0" stroke="#7a7a7a" stroke-opacity="0.8" stroke-width="0.45"/>
<path d="M388.5 63.4V112.52M400.78 63.4V112.52M413.06 63.4V112.52M425.34 63.4V112.52M437.62 63.4V112.52M449.9 63.4V112.52M462.18 63.4V112.52M474.46 63.4V112.52M486.74 63.4V112.52M499.02 63.4V112.52M511.3 63.4V112.52M523.58 63.4V112.52M535.86 63.4V112.52M548.14 63.4V112.52M560.42 63.4V112.52M572.7 63.4V112.52M584.98 63.4V112.52M597.26 63.4V112.52M609.54 63.4V112.52M621.82 63.4V112.52M634.1 63.4V112.52M646.38 63.4V112.52M658.66 63.4V112.52M670.94 63.4V112.52M683.22 63.4V112.52M388.5 63.4H683.22M388.5 75.68H683.22M388.5 87.96H683.22M388.5 100.24H683.22M388.5 112.52H683.22" stroke="#9a9a9a" stroke-width="0.9" fill="none"/>
<text x="464.17" y="72.44" text-anchor="middle" font-size="9.4" fill="#000" style="stroke-width:0.42px">*</text>
<text x="468.32" y="72.44" text-anchor="middle" font-size="9.4" fill="#000" style="stroke-width:0.42px">*</text>
<text x="472.47" y="72.44" text-anchor="middle" font-size="9.4" fill="#000" style="stroke-width:0.42px">*</text>
<text x="586.97" y="72.44" text-anchor="middle" font-size="9.4" fill="#000" style="stroke-width:0.42px">*</text>
<text x="591.12" y="72.44" text-anchor="middle" font-size="9.4" fill="#000" style="stroke-width:0.42px">*</text>
<text x="595.27" y="72.44" text-anchor="middle" font-size="9.4" fill="#000" style="stroke-width:0.42px">*</text>
<text x="627.96" y="72.44" text-anchor="middle" font-size="9.4" fill="#000" style="stroke-width:0.42px">*</text>
<text x="638.16" y="72.44" text-anchor="middle" font-size="9.4" fill="#000" style="stroke-width:0.42px">*</text>
<text x="642.32" y="72.44" text-anchor="middle" font-size="9.4" fill="#000" style="stroke-width:0.42px">*</text>
<text x="404.85" y="84.72" text-anchor="middle" font-size="9.4" fill="#000" style="stroke-width:0.42px">*</text>
<text x="409" y="84.72" text-anchor="middle" font-size="9.4" fill="#000" style="stroke-width:0.42px">*</text>
<text x="627.96" y="84.72" text-anchor="middle" font-size="9.4" fill="#000" style="stroke-width:0.42px">*</text>
<text x="404.85" y="97" text-anchor="middle" font-size="9.4" fill="#000" style="stroke-width:0.42px">*</text>
<text x="409" y="97" text-anchor="middle" font-size="9.4" fill="#000" style="stroke-width:0.42px">*</text>
<text x="503.08" y="97" text-anchor="middle" font-size="9.4" fill="#000" style="stroke-width:0.42px">*</text>
<text x="507.23" y="97" text-anchor="middle" font-size="9.4" fill="#000" style="stroke-width:0.42px">*</text>
<text x="586.97" y="97" text-anchor="middle" font-size="9.4" fill="#000" style="stroke-width:0.42px">*</text>
<text x="591.12" y="97" text-anchor="middle" font-size="9.4" fill="#000" style="stroke-width:0.42px">*</text>
<text x="595.27" y="97" text-anchor="middle" font-size="9.4" fill="#000" style="stroke-width:0.42px">*</text>
<text x="419.2" y="109.28" text-anchor="middle" font-size="9.4" fill="#000" style="stroke-width:0.42px">*</text>
<text x="427.33" y="109.28" text-anchor="middle" font-size="9.4" fill="#000" style="stroke-width:0.42px">*</text>
<text x="431.48" y="109.28" text-anchor="middle" font-size="9.4" fill="#000" style="stroke-width:0.42px">*</text>
<text x="435.63" y="109.28" text-anchor="middle" font-size="9.4" fill="#000" style="stroke-width:0.42px">*</text>
<text x="464.17" y="109.28" text-anchor="middle" font-size="9.4" fill="#000" style="stroke-width:0.42px">*</text>
<text x="468.32" y="109.28" text-anchor="middle" font-size="9.4" fill="#000" style="stroke-width:0.42px">*</text>
<text x="472.47" y="109.28" text-anchor="middle" font-size="9.4" fill="#000" style="stroke-width:0.42px">*</text>
<text x="492.88" y="109.28" text-anchor="middle" font-size="9.4" fill="#000" style="stroke-width:0.42px">*</text>
<text x="515.37" y="109.28" text-anchor="middle" font-size="9.4" fill="#000" style="stroke-width:0.42px">*</text>
<text x="519.52" y="109.28" text-anchor="middle" font-size="9.4" fill="#000" style="stroke-width:0.42px">*</text>
<text x="537.85" y="109.28" text-anchor="middle" font-size="9.4" fill="#000" style="stroke-width:0.42px">*</text>
<text x="542" y="109.28" text-anchor="middle" font-size="9.4" fill="#000" style="stroke-width:0.42px">*</text>
<text x="546.15" y="109.28" text-anchor="middle" font-size="9.4" fill="#000" style="stroke-width:0.42px">*</text>
<text x="554.28" y="109.28" text-anchor="middle" font-size="9.4" fill="#000" style="stroke-width:0.42px">*</text>
<text x="574.69" y="109.28" text-anchor="middle" font-size="9.4" fill="#000" style="stroke-width:0.42px">*</text>
<text x="578.84" y="109.28" text-anchor="middle" font-size="9.4" fill="#000" style="stroke-width:0.42px">*</text>
<text x="582.99" y="109.28" text-anchor="middle" font-size="9.4" fill="#000" style="stroke-width:0.42px">*</text>
<text x="640.24" y="109.28" text-anchor="middle" font-size="9.4" fill="#000" style="stroke-width:0.42px">*</text>
<text x="652.52" y="109.28" text-anchor="middle" font-size="9.4" fill="#000" style="stroke-width:0.42px">*</text>
<text transform="translate(398.34 117.5) rotate(-90)" text-anchor="end" font-size="10.7" fill="#000">Trichoderma</text>
<text transform="translate(410.62 117.5) rotate(-90)" text-anchor="end" font-size="10.7" fill="#000">Penicillium</text>
<text transform="translate(422.9 117.5) rotate(-90)" text-anchor="end" font-size="10.7" fill="#000">Fusarium</text>
<text transform="translate(435.18 117.5) rotate(-90)" text-anchor="end" font-size="10.7" fill="#000">Coniochaeta</text>
<text transform="translate(447.46 117.5) rotate(-90)" text-anchor="end" font-size="10.7" fill="#000">Phaeoacremonium</text>
<text transform="translate(459.74 117.5) rotate(-90)" text-anchor="end" font-size="10.7" fill="#000">Phanerochaete</text>
<text transform="translate(472.02 117.5) rotate(-90)" text-anchor="end" font-size="10.7" fill="#000">Phialemoniopsis</text>
<text transform="translate(484.3 117.5) rotate(-90)" text-anchor="end" font-size="10.7" fill="#000">Phlebia</text>
<text transform="translate(496.58 117.5) rotate(-90)" text-anchor="end" font-size="10.7" fill="#000">Oidiodendron</text>
<text transform="translate(508.86 117.5) rotate(-90)" text-anchor="end" font-size="10.7" fill="#000">Talaromyces</text>
<text transform="translate(521.14 117.5) rotate(-90)" text-anchor="end" font-size="10.7" fill="#000">Exophiala</text>
<text transform="translate(533.42 117.5) rotate(-90)" text-anchor="end" font-size="10.7" fill="#000">Barbatosphaeria</text>
<text transform="translate(545.7 117.5) rotate(-90)" text-anchor="end" font-size="10.7" fill="#000">Gibberella</text>
<text transform="translate(557.98 117.5) rotate(-90)" text-anchor="end" font-size="10.7" fill="#000">Kabatiella</text>
<text transform="translate(570.26 117.5) rotate(-90)" text-anchor="end" font-size="10.7" fill="#000">Ceriporia</text>
<text transform="translate(582.54 117.5) rotate(-90)" text-anchor="end" font-size="10.7" fill="#000">Papiliotrema</text>
<text transform="translate(594.82 117.5) rotate(-90)" text-anchor="end" font-size="10.7" fill="#000">Solicoccozyma</text>
<text transform="translate(607.1 117.5) rotate(-90)" text-anchor="end" font-size="10.7" fill="#000">Hyphodontia</text>
<text transform="translate(619.38 117.5) rotate(-90)" text-anchor="end" font-size="10.7" fill="#000">Mycoacia</text>
<text transform="translate(631.66 117.5) rotate(-90)" text-anchor="end" font-size="10.7" fill="#000">Phialemonium</text>
<text transform="translate(643.94 117.5) rotate(-90)" text-anchor="end" font-size="10.7" fill="#000">Lophium</text>
<text transform="translate(656.22 117.5) rotate(-90)" text-anchor="end" font-size="10.7" fill="#000">Metarhizium</text>
<text transform="translate(668.5 117.5) rotate(-90)" text-anchor="end" font-size="10.7" fill="#000">Stereum</text>
<text transform="translate(680.78 117.5) rotate(-90)" text-anchor="end" font-size="10.7" fill="#000">Hyphodermella</text>
<text x="84.1" y="74.04" text-anchor="end" font-size="10.75" fill="#000">Distance</text>
<text x="84.1" y="86.32" text-anchor="end" font-size="10.75" fill="#000">WSTN.Reduction</text>
<text x="84.1" y="98.6" text-anchor="end" font-size="10.75" fill="#000">Mass.Loss</text>
<text x="84.1" y="110.88" text-anchor="end" font-size="10.75" fill="#000">Fungal.Shannon</text>
<rect x="91.9" y="240.9" width="294.9" height="14.8" fill="#d9d9d9"/>
<text x="239.35" y="253" text-anchor="middle" font-size="10.8" fill="#1a1a1a">With Agaricomycetes</text>
<rect x="93.1" y="257.4" width="292.12" height="46.74" fill="#fff"/>
<rect x="95.69" y="260.19" width="6.5" height="6.5" fill="#f98a50" stroke="#7a7a7a" stroke-opacity="0.8" stroke-width="0.45"/>
<rect x="107.73" y="260.54" width="5.8" height="5.8" fill="#dcf1f7" stroke="#7a7a7a" stroke-opacity="0.8" stroke-width="0.45"/>
<rect x="120.56" y="261.69" width="3.5" height="3.5" fill="#ffce7f" stroke="#7a7a7a" stroke-opacity="0.8" stroke-width="0.45"/>
<rect x="130.5" y="259.94" width="7" height="7" fill="#abd9e9" stroke="#7a7a7a" stroke-opacity="0.8" stroke-width="0.45"/>
<rect x="143.53" y="261.29" width="4.3" height="4.3" fill="#f1f9dc" stroke="#7a7a7a" stroke-opacity="0.8" stroke-width="0.45"/>
<rect x="153.52" y="259.59" width="7.7" height="7.7" fill="#98c9e0" stroke="#7a7a7a" stroke-opacity="0.8" stroke-width="0.45"/>
<rect x="166.15" y="260.54" width="5.8" height="5.8" fill="#f98a50" stroke="#7a7a7a" stroke-opacity="0.8" stroke-width="0.45"/>
<rect x="178.24" y="260.94" width="5" height="5" fill="#febc6e" stroke="#7a7a7a" stroke-opacity="0.8" stroke-width="0.45"/>
<rect x="189.67" y="260.69" width="5.5" height="5.5" fill="#dcf1f7" stroke="#7a7a7a" stroke-opacity="0.8" stroke-width="0.45"/>
<rect x="201.36" y="260.69" width="5.5" height="5.5" fill="#feb568" stroke="#7a7a7a" stroke-opacity="0.8" stroke-width="0.45"/>
<rect x="213.29" y="260.94" width="5" height="5" fill="#e8f5ec" stroke="#7a7a7a" stroke-opacity="0.8" stroke-width="0.45"/>
<rect x="223.23" y="259.19" width="8.5" height="8.5" fill="#df442f" stroke="#7a7a7a" stroke-opacity="0.8" stroke-width="0.45"/>
<rect x="234.46" y="258.74" width="9.4" height="9.4" fill="#b31227" stroke="#7a7a7a" stroke-opacity="0.8" stroke-width="0.45"/>
<rect x="246.95" y="259.54" width="7.8" height="7.8" fill="#ea5939" stroke="#7a7a7a" stroke-opacity="0.8" stroke-width="0.45"/>
<rect x="258.83" y="259.74" width="7.4" height="7.4" fill="#98c9e0" stroke="#7a7a7a" stroke-opacity="0.8" stroke-width="0.45"/>
<rect x="270.12" y="259.34" width="8.2" height="8.2" fill="#6499c7" stroke="#7a7a7a" stroke-opacity="0.8" stroke-width="0.45"/>
<rect x="284.7" y="262.24" width="2.4" height="2.4" fill="#ffefa7" stroke="#7a7a7a" stroke-opacity="0.8" stroke-width="0.45"/>
<rect x="296.29" y="262.14" width="2.6" height="2.6" fill="#ffefa7" stroke="#7a7a7a" stroke-opacity="0.8" stroke-width="0.45"/>
<rect x="306.52" y="260.69" width="5.5" height="5.5" fill="#e3f4f4" stroke="#7a7a7a" stroke-opacity="0.8" stroke-width="0.45"/>
<rect x="317.46" y="259.94" width="7" height="7" fill="#abd9e9" stroke="#7a7a7a" stroke-opacity="0.8" stroke-width="0.45"/>
<rect x="331.04" y="261.84" width="3.2" height="3.2" fill="#ffe99d" stroke="#7a7a7a" stroke-opacity="0.8" stroke-width="0.45"/>
<rect x="340.83" y="259.94" width="7" height="7" fill="#f46d43" stroke="#7a7a7a" stroke-opacity="0.8" stroke-width="0.45"/>
<rect x="353.41" y="260.84" width="5.2" height="5.2" fill="#febc6e" stroke="#7a7a7a" stroke-opacity="0.8" stroke-width="0.45"/>
<rect x="363.6" y="259.34" width="8.2" height="8.2" fill="#e44d33" stroke="#7a7a7a" stroke-opacity="0.8" stroke-width="0.45"/>
<rect x="376.98" y="261.04" width="4.8" height="4.8" fill="#fec475" stroke="#7a7a7a" stroke-opacity="0.8" stroke-width="0.45"/>
<rect x="95.54" y="271.73" width="6.8" height="6.8" fill="#bee2ee" stroke="#7a7a7a" stroke-opacity="0.8" stroke-width="0.45"/>
<rect x="109.23" y="273.73" width="2.8" height="2.8" fill="#ffce7f" stroke="#7a7a7a" stroke-opacity="0.8" stroke-width="0.45"/>
<rect x="120.41" y="273.23" width="3.8" height="3.8" fill="#f7fbd0" stroke="#7a7a7a" stroke-opacity="0.8" stroke-width="0.45"/>
<rect x="132.2" y="273.33" width="3.6" height="3.6" fill="#fec778" stroke="#7a7a7a" stroke-opacity="0.8" stroke-width="0.45"/>
<rect x="142.88" y="272.33" width="5.6" height="5.6" fill="#fdae61" stroke="#7a7a7a" stroke-opacity="0.8" stroke-width="0.45"/>
<rect x="153.87" y="271.63" width="7" height="7" fill="#f67747" stroke="#7a7a7a" stroke-opacity="0.8" stroke-width="0.45"/>
<rect x="166.4" y="272.48" width="5.3" height="5.3" fill="#dcf1f7" stroke="#7a7a7a" stroke-opacity="0.8" stroke-width="0.45"/>
<rect x="179.09" y="273.48" width="3.3" height="3.3" fill="#fff8b5" stroke="#7a7a7a" stroke-opacity="0.8" stroke-width="0.45"/>
<rect x="191.17" y="273.88" width="2.5" height="2.5" fill="#fff2ab" stroke="#7a7a7a" stroke-opacity="0.8" stroke-width="0.45"/>
<rect x="200.46" y="271.48" width="7.3" height="7.3" fill="#f0653f" stroke="#7a7a7a" stroke-opacity="0.8" stroke-width="0.45"/>
<rect x="213.99" y="273.33" width="3.6" height="3.6" fill="#ffce7f" stroke="#7a7a7a" stroke-opacity="0.8" stroke-width="0.45"/>
<rect x="223.48" y="271.13" width="8" height="8" fill="#71a9cf" stroke="#7a7a7a" stroke-opacity="0.8" stroke-width="0.45"/>
<rect x="237.06" y="273.03" width="4.2" height="4.2" fill="#f1f9dc" stroke="#7a7a7a" stroke-opacity="0.8" stroke-width="0.45"/>
<rect x="249.45" y="273.73" width="2.8" height="2.8" fill="#fee090" stroke="#7a7a7a" stroke-opacity="0.8" stroke-width="0.45"/>
<rect x="260.63" y="273.23" width="3.8" height="3.8" fill="#f7fbd0" stroke="#7a7a7a" stroke-opacity="0.8" stroke-width="0.45"/>
<rect x="271.22" y="272.13" width="6" height="6" fill="#fdaa5f" stroke="#7a7a7a" stroke-opacity="0.8" stroke-width="0.45"/>
<rect x="282.25" y="271.48" width="7.3" height="7.3" fill="#f0653f" stroke="#7a7a7a" stroke-opacity="0.8" stroke-width="0.45"/>
<rect x="294.94" y="272.48" width="5.3" height="5.3" fill="#dcf1f7" stroke="#7a7a7a" stroke-opacity="0.8" stroke-width="0.45"/>
<rect x="306.37" y="272.23" width="5.8" height="5.8" fill="#fdae61" stroke="#7a7a7a" stroke-opacity="0.8" stroke-width="0.45"/>
<rect x="318.01" y="272.18" width="5.9" height="5.9" fill="#fdaa5f" stroke="#7a7a7a" stroke-opacity="0.8" stroke-width="0.45"/>
<rect x="329.94" y="272.43" width="5.4" height="5.4" fill="#fdae61" stroke="#7a7a7a" stroke-opacity="0.8" stroke-width="0.45"/>
<rect x="340.58" y="271.38" width="7.5" height="7.5" fill="#98c9e0" stroke="#7a7a7a" stroke-opacity="0.8" stroke-width="0.45"/>
<rect x="353.36" y="272.48" width="5.3" height="5.3" fill="#feb568" stroke="#7a7a7a" stroke-opacity="0.8" stroke-width="0.45"/>
<rect x="366.1" y="273.53" width="3.2" height="3.2" fill="#f9fccb" stroke="#7a7a7a" stroke-opacity="0.8" stroke-width="0.45"/>
<rect x="377.23" y="272.98" width="4.3" height="4.3" fill="#ffce7f" stroke="#7a7a7a" stroke-opacity="0.8" stroke-width="0.45"/>
<rect x="95.04" y="282.91" width="7.8" height="7.8" fill="#71a9cf" stroke="#7a7a7a" stroke-opacity="0.8" stroke-width="0.45"/>
<rect x="107.73" y="283.91" width="5.8" height="5.8" fill="#dcf1f7" stroke="#7a7a7a" stroke-opacity="0.8" stroke-width="0.45"/>
<rect x="120.51" y="285.01" width="3.6" height="3.6" fill="#ffce7f" stroke="#7a7a7a" stroke-opacity="0.8" stroke-width="0.45"/>
<rect x="130.55" y="283.36" width="6.9" height="6.9" fill="#f8854d" stroke="#7a7a7a" stroke-opacity="0.8" stroke-width="0.45"/>
<rect x="142.33" y="283.46" width="6.7" height="6.7" fill="#f8854d" stroke="#7a7a7a" stroke-opacity="0.8" stroke-width="0.45"/>
<rect x="152.97" y="282.41" width="8.8" height="8.8" fill="#d73027" stroke="#7a7a7a" stroke-opacity="0.8" stroke-width="0.45"/>
<rect x="164.65" y="282.41" width="8.8" height="8.8" fill="#5081ba" stroke="#7a7a7a" stroke-opacity="0.8" stroke-width="0.45"/>
<rect x="180.09" y="286.16" width="1.3" height="1.3" fill="#fffdbc" stroke="#7a7a7a" stroke-opacity="0.8" stroke-width="0.45"/>
<rect x="189.17" y="283.56" width="6.5" height="6.5" fill="#f98a50" stroke="#7a7a7a" stroke-opacity="0.8" stroke-width="0.45"/>
<rect x="199.86" y="282.56" width="8.5" height="8.5" fill="#d73027" stroke="#7a7a7a" stroke-opacity="0.8" stroke-width="0.45"/>
<rect x="214.54" y="285.56" width="2.5" height="2.5" fill="#fee090" stroke="#7a7a7a" stroke-opacity="0.8" stroke-width="0.45"/>
<rect x="222.58" y="281.91" width="9.8" height="9.8" fill="#37449c" stroke="#7a7a7a" stroke-opacity="0.8" stroke-width="0.45"/>
<rect x="235.41" y="283.06" width="7.5" height="7.5" fill="#98c9e0" stroke="#7a7a7a" stroke-opacity="0.8" stroke-width="0.45"/>
<rect x="249.05" y="285.01" width="3.6" height="3.6" fill="#ffce7f" stroke="#7a7a7a" stroke-opacity="0.8" stroke-width="0.45"/>
<rect x="259.93" y="284.21" width="5.2" height="5.2" fill="#dcf1f7" stroke="#7a7a7a" stroke-opacity="0.8" stroke-width="0.45"/>
<rect x="270.02" y="282.61" width="8.4" height="8.4" fill="#df442f" stroke="#7a7a7a" stroke-opacity="0.8" stroke-width="0.45"/>
<rect x="281.2" y="282.11" width="9.4" height="9.4" fill="#b31227" stroke="#7a7a7a" stroke-opacity="0.8" stroke-width="0.45"/>
<rect x="295.09" y="284.31" width="5" height="5" fill="#e8f5ec" stroke="#7a7a7a" stroke-opacity="0.8" stroke-width="0.45"/>
<rect x="304.97" y="282.51" width="8.6" height="8.6" fill="#d73027" stroke="#7a7a7a" stroke-opacity="0.8" stroke-width="0.45"/>
<rect x="316.96" y="282.81" width="8" height="8" fill="#ea5939" stroke="#7a7a7a" stroke-opacity="0.8" stroke-width="0.45"/>
<rect x="328.74" y="282.91" width="7.8" height="7.8" fill="#ea5939" stroke="#7a7a7a" stroke-opacity="0.8" stroke-width="0.45"/>
<rect x="339.53" y="282.01" width="9.6" height="9.6" fill="#37449c" stroke="#7a7a7a" stroke-opacity="0.8" stroke-width="0.45"/>
<rect x="353.36" y="284.16" width="5.3" height="5.3" fill="#febc6e" stroke="#7a7a7a" stroke-opacity="0.8" stroke-width="0.45"/>
<rect x="366.5" y="285.61" width="2.4" height="2.4" fill="#fff4ae" stroke="#7a7a7a" stroke-opacity="0.8" stroke-width="0.45"/>
<rect x="378.48" y="285.91" width="1.8" height="1.8" fill="#fff6b1" stroke="#7a7a7a" stroke-opacity="0.8" stroke-width="0.45"/>
<rect x="97.34" y="296.9" width="3.2" height="3.2" fill="#fff6b1" stroke="#7a7a7a" stroke-opacity="0.8" stroke-width="0.45"/>
<rect x="107.18" y="295.05" width="6.9" height="6.9" fill="#f8854d" stroke="#7a7a7a" stroke-opacity="0.8" stroke-width="0.45"/>
<rect x="120.51" y="296.7" width="3.6" height="3.6" fill="#ffce7f" stroke="#7a7a7a" stroke-opacity="0.8" stroke-width="0.45"/>
<rect x="132.05" y="296.55" width="3.9" height="3.9" fill="#fec475" stroke="#7a7a7a" stroke-opacity="0.8" stroke-width="0.45"/>
<rect x="144.68" y="297.5" width="2" height="2" fill="#fff8b5" stroke="#7a7a7a" stroke-opacity="0.8" stroke-width="0.45"/>
<rect x="156.02" y="297.15" width="2.7" height="2.7" fill="#fee090" stroke="#7a7a7a" stroke-opacity="0.8" stroke-width="0.45"/>
<rect x="167.05" y="296.5" width="4" height="4" fill="#ffce7f" stroke="#7a7a7a" stroke-opacity="0.8" stroke-width="0.45"/>
<rect x="178.49" y="296.25" width="4.5" height="4.5" fill="#fec475" stroke="#7a7a7a" stroke-opacity="0.8" stroke-width="0.45"/>
<rect x="191.02" y="297.1" width="2.8" height="2.8" fill="#fed989" stroke="#7a7a7a" stroke-opacity="0.8" stroke-width="0.45"/>
<rect x="200.31" y="294.7" width="7.6" height="7.6" fill="#98c9e0" stroke="#7a7a7a" stroke-opacity="0.8" stroke-width="0.45"/>
<rect x="215.14" y="297.85" width="1.3" height="1.3" fill="#fffdbc" stroke="#7a7a7a" stroke-opacity="0.8" stroke-width="0.45"/>
<rect x="225.33" y="296.35" width="4.3" height="4.3" fill="#f1f9dc" stroke="#7a7a7a" stroke-opacity="0.8" stroke-width="0.45"/>
<rect x="236.01" y="295.35" width="6.3" height="6.3" fill="#c6e6f0" stroke="#7a7a7a" stroke-opacity="0.8" stroke-width="0.45"/>
<rect x="246.5" y="294.15" width="8.7" height="8.7" fill="#5a8dc0" stroke="#7a7a7a" stroke-opacity="0.8" stroke-width="0.45"/>
<rect x="258.93" y="294.9" width="7.2" height="7.2" fill="#f0653f" stroke="#7a7a7a" stroke-opacity="0.8" stroke-width="0.45"/>
<rect x="271.47" y="295.75" width="5.5" height="5.5" fill="#feb568" stroke="#7a7a7a" stroke-opacity="0.8" stroke-width="0.45"/>
<rect x="282.15" y="294.75" width="7.5" height="7.5" fill="#98c9e0" stroke="#7a7a7a" stroke-opacity="0.8" stroke-width="0.45"/>
<rect x="295.24" y="296.15" width="4.7" height="4.7" fill="#febc6e" stroke="#7a7a7a" stroke-opacity="0.8" stroke-width="0.45"/>
<rect x="306.52" y="295.75" width="5.5" height="5.5" fill="#dcf1f7" stroke="#7a7a7a" stroke-opacity="0.8" stroke-width="0.45"/>
<rect x="319.36" y="296.9" width="3.2" height="3.2" fill="#fee090" stroke="#7a7a7a" stroke-opacity="0.8" stroke-width="0.45"/>
<rect x="330.04" y="295.9" width="5.2" height="5.2" fill="#dcf1f7" stroke="#7a7a7a" stroke-opacity="0.8" stroke-width="0.45"/>
<rect x="342.63" y="296.8" width="3.4" height="3.4" fill="#fee497" stroke="#7a7a7a" stroke-opacity="0.8" stroke-width="0.45"/>
<rect x="352.51" y="295" width="7" height="7" fill="#abd9e9" stroke="#7a7a7a" stroke-opacity="0.8" stroke-width="0.45"/>
<rect x="363.75" y="294.55" width="7.9" height="7.9" fill="#71a9cf" stroke="#7a7a7a" stroke-opacity="0.8" stroke-width="0.45"/>
<rect x="378.13" y="297.25" width="2.5" height="2.5" fill="#fff4ae" stroke="#7a7a7a" stroke-opacity="0.8" stroke-width="0.45"/>
<path d="M93.1 257.4V304.14M104.78 257.4V304.14M116.47 257.4V304.14M128.16 257.4V304.14M139.84 257.4V304.14M151.53 257.4V304.14M163.21 257.4V304.14M174.89 257.4V304.14M186.58 257.4V304.14M198.26 257.4V304.14M209.95 257.4V304.14M221.63 257.4V304.14M233.32 257.4V304.14M245 257.4V304.14M256.69 257.4V304.14M268.38 257.4V304.14M280.06 257.4V304.14M291.75 257.4V304.14M303.43 257.4V304.14M315.12 257.4V304.14M326.8 257.4V304.14M338.49 257.4V304.14M350.17 257.4V304.14M361.86 257.4V304.14M373.54 257.4V304.14M385.23 257.4V304.14M93.1 257.4H385.23M93.1 269.08H385.23M93.1 280.77H385.23M93.1 292.45H385.23M93.1 304.14H385.23" stroke="#9a9a9a" stroke-width="0.9" fill="none"/>
<text x="157.37" y="265.74" text-anchor="middle" font-size="9.4" fill="#000" style="stroke-width:0.42px">*</text>
<text x="225.4" y="265.74" text-anchor="middle" font-size="9.4" fill="#000" style="stroke-width:0.42px">*</text>
<text x="229.55" y="265.74" text-anchor="middle" font-size="9.4" fill="#000" style="stroke-width:0.42px">*</text>
<text x="235.01" y="265.74" text-anchor="middle" font-size="9.4" fill="#000" style="stroke-width:0.42px">*</text>
<text x="239.16" y="265.74" text-anchor="middle" font-size="9.4" fill="#000" style="stroke-width:0.42px">*</text>
<text x="243.31" y="265.74" text-anchor="middle" font-size="9.4" fill="#000" style="stroke-width:0.42px">*</text>
<text x="250.85" y="265.74" text-anchor="middle" font-size="9.4" fill="#000" style="stroke-width:0.42px">*</text>
<text x="262.53" y="265.74" text-anchor="middle" font-size="9.4" fill="#000" style="stroke-width:0.42px">*</text>
<text x="272.14" y="265.74" text-anchor="middle" font-size="9.4" fill="#000" style="stroke-width:0.42px">*</text>
<text x="276.29" y="265.74" text-anchor="middle" font-size="9.4" fill="#000" style="stroke-width:0.42px">*</text>
<text x="344.33" y="265.74" text-anchor="middle" font-size="9.4" fill="#000" style="stroke-width:0.42px">*</text>
<text x="365.62" y="265.74" text-anchor="middle" font-size="9.4" fill="#000" style="stroke-width:0.42px">*</text>
<text x="369.77" y="265.74" text-anchor="middle" font-size="9.4" fill="#000" style="stroke-width:0.42px">*</text>
<text x="204.11" y="277.43" text-anchor="middle" font-size="9.4" fill="#000" style="stroke-width:0.42px">*</text>
<text x="225.4" y="277.43" text-anchor="middle" font-size="9.4" fill="#000" style="stroke-width:0.42px">*</text>
<text x="229.55" y="277.43" text-anchor="middle" font-size="9.4" fill="#000" style="stroke-width:0.42px">*</text>
<text x="285.9" y="277.43" text-anchor="middle" font-size="9.4" fill="#000" style="stroke-width:0.42px">*</text>
<text x="344.33" y="277.43" text-anchor="middle" font-size="9.4" fill="#000" style="stroke-width:0.42px">*</text>
<text x="96.87" y="289.11" text-anchor="middle" font-size="9.4" fill="#000" style="stroke-width:0.42px">*</text>
<text x="101.02" y="289.11" text-anchor="middle" font-size="9.4" fill="#000" style="stroke-width:0.42px">*</text>
<text x="155.29" y="289.11" text-anchor="middle" font-size="9.4" fill="#000" style="stroke-width:0.42px">*</text>
<text x="159.44" y="289.11" text-anchor="middle" font-size="9.4" fill="#000" style="stroke-width:0.42px">*</text>
<text x="164.9" y="289.11" text-anchor="middle" font-size="9.4" fill="#000" style="stroke-width:0.42px">*</text>
<text x="169.05" y="289.11" text-anchor="middle" font-size="9.4" fill="#000" style="stroke-width:0.42px">*</text>
<text x="173.2" y="289.11" text-anchor="middle" font-size="9.4" fill="#000" style="stroke-width:0.42px">*</text>
<text x="202.03" y="289.11" text-anchor="middle" font-size="9.4" fill="#000" style="stroke-width:0.42px">*</text>
<text x="206.18" y="289.11" text-anchor="middle" font-size="9.4" fill="#000" style="stroke-width:0.42px">*</text>
<text x="223.33" y="289.11" text-anchor="middle" font-size="9.4" fill="#000" style="stroke-width:0.42px">*</text>
<text x="227.48" y="289.11" text-anchor="middle" font-size="9.4" fill="#000" style="stroke-width:0.42px">*</text>
<text x="231.63" y="289.11" text-anchor="middle" font-size="9.4" fill="#000" style="stroke-width:0.42px">*</text>
<text x="239.16" y="289.11" text-anchor="middle" font-size="9.4" fill="#000" style="stroke-width:0.42px">*</text>
<text x="272.14" y="289.11" text-anchor="middle" font-size="9.4" fill="#000" style="stroke-width:0.42px">*</text>
<text x="276.29" y="289.11" text-anchor="middle" font-size="9.4" fill="#000" style="stroke-width:0.42px">*</text>
<text x="281.75" y="289.11" text-anchor="middle" font-size="9.4" fill="#000" style="stroke-width:0.42px">*</text>
<text x="285.9" y="289.11" text-anchor="middle" font-size="9.4" fill="#000" style="stroke-width:0.42px">*</text>
<text x="290.05" y="289.11" text-anchor="middle" font-size="9.4" fill="#000" style="stroke-width:0.42px">*</text>
<text x="307.2" y="289.11" text-anchor="middle" font-size="9.4" fill="#000" style="stroke-width:0.42px">*</text>
<text x="311.35" y="289.11" text-anchor="middle" font-size="9.4" fill="#000" style="stroke-width:0.42px">*</text>
<text x="320.96" y="289.11" text-anchor="middle" font-size="9.4" fill="#000" style="stroke-width:0.42px">*</text>
<text x="332.64" y="289.11" text-anchor="middle" font-size="9.4" fill="#000" style="stroke-width:0.42px">*</text>
<text x="340.18" y="289.11" text-anchor="middle" font-size="9.4" fill="#000" style="stroke-width:0.42px">*</text>
<text x="344.33" y="289.11" text-anchor="middle" font-size="9.4" fill="#000" style="stroke-width:0.42px">*</text>
<text x="348.48" y="289.11" text-anchor="middle" font-size="9.4" fill="#000" style="stroke-width:0.42px">*</text>
<text x="204.11" y="300.8" text-anchor="middle" font-size="9.4" fill="#000" style="stroke-width:0.42px">*</text>
<text x="246.7" y="300.8" text-anchor="middle" font-size="9.4" fill="#000" style="stroke-width:0.42px">*</text>
<text x="250.85" y="300.8" text-anchor="middle" font-size="9.4" fill="#000" style="stroke-width:0.42px">*</text>
<text x="255" y="300.8" text-anchor="middle" font-size="9.4" fill="#000" style="stroke-width:0.42px">*</text>
<text x="262.53" y="300.8" text-anchor="middle" font-size="9.4" fill="#000" style="stroke-width:0.42px">*</text>
<text x="285.9" y="300.8" text-anchor="middle" font-size="9.4" fill="#000" style="stroke-width:0.42px">*</text>
<text x="356.01" y="300.8" text-anchor="middle" font-size="9.4" fill="#000" style="stroke-width:0.42px">*</text>
<text x="365.62" y="300.8" text-anchor="middle" font-size="9.4" fill="#000" style="stroke-width:0.42px">*</text>
<text x="369.77" y="300.8" text-anchor="middle" font-size="9.4" fill="#000" style="stroke-width:0.42px">*</text>
<text transform="translate(102.64 308.8) rotate(-90)" text-anchor="end" font-size="10.7" fill="#000">Micropepsaceae</text>
<text transform="translate(114.33 308.8) rotate(-90)" text-anchor="end" font-size="10.7" fill="#000">Sphingobacteriaceae</text>
<text transform="translate(126.01 308.8) rotate(-90)" text-anchor="end" font-size="10.7" fill="#000">Chitinophagaceae</text>
<text transform="translate(137.7 308.8) rotate(-90)" text-anchor="end" font-size="10.7" fill="#000">Xanthobacteraceae</text>
<text transform="translate(149.38 308.8) rotate(-90)" text-anchor="end" font-size="10.7" fill="#000">Microbacteriaceae</text>
<text transform="translate(161.07 308.8) rotate(-90)" text-anchor="end" font-size="10.7" fill="#000">Caulobacteraceae</text>
<text transform="translate(172.75 308.8) rotate(-90)" text-anchor="end" font-size="10.7" fill="#000">Burkholderiaceae</text>
<text transform="translate(184.44 308.8) rotate(-90)" text-anchor="end" font-size="10.7" fill="#000">Mitochondria</text>
<text transform="translate(196.12 308.8) rotate(-90)" text-anchor="end" font-size="10.7" fill="#000">67_14</text>
<text transform="translate(207.81 308.8) rotate(-90)" text-anchor="end" font-size="10.7" fill="#000">Gemmatimonadaceae</text>
<text transform="translate(219.49 308.8) rotate(-90)" text-anchor="end" font-size="10.7" fill="#000">Sphingomonadaceae</text>
<text transform="translate(231.18 308.8) rotate(-90)" text-anchor="end" font-size="10.7" fill="#000">Acidobacteriaceae</text>
<text transform="translate(242.86 308.8) rotate(-90)" text-anchor="end" font-size="10.7" fill="#000">Rhodanobacteraceae</text>
<text transform="translate(254.55 308.8) rotate(-90)" text-anchor="end" font-size="10.7" fill="#000">Solibacteraceae</text>
<text transform="translate(266.23 308.8) rotate(-90)" text-anchor="end" font-size="10.7" fill="#000">Rhizobiaceae</text>
<text transform="translate(277.92 308.8) rotate(-90)" text-anchor="end" font-size="10.7" fill="#000">Isosphaeraceae</text>
<text transform="translate(289.6 308.8) rotate(-90)" text-anchor="end" font-size="10.7" fill="#000">Solirubrobacteraceae</text>
<text transform="translate(301.29 308.8) rotate(-90)" text-anchor="end" font-size="10.7" fill="#000">Streptomycetaceae</text>
<text transform="translate(312.97 308.8) rotate(-90)" text-anchor="end" font-size="10.7" fill="#000">Microscillaceae</text>
<text transform="translate(324.66 308.8) rotate(-90)" text-anchor="end" font-size="10.7" fill="#000">Reyranellaceae</text>
<text transform="translate(336.34 308.8) rotate(-90)" text-anchor="end" font-size="10.7" fill="#000">env.OPS_17</text>
<text transform="translate(348.03 308.8) rotate(-90)" text-anchor="end" font-size="10.7" fill="#000">Acetobacteraceae</text>
<text transform="translate(359.71 308.8) rotate(-90)" text-anchor="end" font-size="10.7" fill="#000">Devosiaceae</text>
<text transform="translate(371.4 308.8) rotate(-90)" text-anchor="end" font-size="10.7" fill="#000">Cytophagaceae</text>
<text transform="translate(383.08 308.8) rotate(-90)" text-anchor="end" font-size="10.7" fill="#000">Nitrosomonadaceae</text>
<rect x="390.1" y="240.9" width="294.5" height="14.8" fill="#d9d9d9"/>
<text x="537.35" y="253" text-anchor="middle" font-size="10.8" fill="#1a1a1a">Without Agaricomycetes</text>
<rect x="391.2" y="257.4" width="292.12" height="46.74" fill="#fff"/>
<rect x="393.64" y="260.04" width="6.8" height="6.8" fill="#f98a50" stroke="#7a7a7a" stroke-opacity="0.8" stroke-width="0.45"/>
<rect x="406.98" y="261.69" width="3.5" height="3.5" fill="#f9fccb" stroke="#7a7a7a" stroke-opacity="0.8" stroke-width="0.45"/>
<rect x="415.91" y="258.94" width="9" height="9" fill="#b31227" stroke="#7a7a7a" stroke-opacity="0.8" stroke-width="0.45"/>
<rect x="429.6" y="260.94" width="5" height="5" fill="#e8f5ec" stroke="#7a7a7a" stroke-opacity="0.8" stroke-width="0.45"/>
<rect x="441.53" y="261.19" width="4.5" height="4.5" fill="#ffce7f" stroke="#7a7a7a" stroke-opacity="0.8" stroke-width="0.45"/>
<rect x="453.32" y="261.29" width="4.3" height="4.3" fill="#f1f9dc" stroke="#7a7a7a" stroke-opacity="0.8" stroke-width="0.45"/>
<rect x="465" y="261.29" width="4.3" height="4.3" fill="#ffce7f" stroke="#7a7a7a" stroke-opacity="0.8" stroke-width="0.45"/>
<rect x="476.69" y="261.29" width="4.3" height="4.3" fill="#f1f9dc" stroke="#7a7a7a" stroke-opacity="0.8" stroke-width="0.45"/>
<rect x="487.12" y="260.04" width="6.8" height="6.8" fill="#abd9e9" stroke="#7a7a7a" stroke-opacity="0.8" stroke-width="0.45"/>
<rect x="499.81" y="261.04" width="4.8" height="4.8" fill="#fec475" stroke="#7a7a7a" stroke-opacity="0.8" stroke-width="0.45"/>
<rect x="509.89" y="259.44" width="8" height="8" fill="#5a8dc0" stroke="#7a7a7a" stroke-opacity="0.8" stroke-width="0.45"/>
<rect x="523.48" y="261.34" width="4.2" height="4.2" fill="#ffce7f" stroke="#7a7a7a" stroke-opacity="0.8" stroke-width="0.45"/>
<rect x="535.11" y="261.29" width="4.3" height="4.3" fill="#ffce7f" stroke="#7a7a7a" stroke-opacity="0.8" stroke-width="0.45"/>
<rect x="545.75" y="260.24" width="6.4" height="6.4" fill="#fa9354" stroke="#7a7a7a" stroke-opacity="0.8" stroke-width="0.45"/>
<rect x="559.13" y="261.94" width="3" height="3" fill="#fff6b1" stroke="#7a7a7a" stroke-opacity="0.8" stroke-width="0.45"/>
<rect x="568.57" y="259.69" width="7.5" height="7.5" fill="#98c9e0" stroke="#7a7a7a" stroke-opacity="0.8" stroke-width="0.45"/>
<rect x="581.75" y="261.19" width="4.5" height="4.5" fill="#fec475" stroke="#7a7a7a" stroke-opacity="0.8" stroke-width="0.45"/>
<rect x="594.19" y="261.94" width="3" height="3" fill="#ffefa7" stroke="#7a7a7a" stroke-opacity="0.8" stroke-width="0.45"/>
<rect x="603.87" y="259.94" width="7" height="7" fill="#abd9e9" stroke="#7a7a7a" stroke-opacity="0.8" stroke-width="0.45"/>
<rect x="616.91" y="261.29" width="4.3" height="4.3" fill="#f1f9dc" stroke="#7a7a7a" stroke-opacity="0.8" stroke-width="0.45"/>
<rect x="629.24" y="261.94" width="3" height="3" fill="#fff6b1" stroke="#7a7a7a" stroke-opacity="0.8" stroke-width="0.45"/>
<rect x="638.43" y="259.44" width="8" height="8" fill="#e44d33" stroke="#7a7a7a" stroke-opacity="0.8" stroke-width="0.45"/>
<rect x="651.36" y="260.69" width="5.5" height="5.5" fill="#fca15a" stroke="#7a7a7a" stroke-opacity="0.8" stroke-width="0.45"/>
<rect x="663.05" y="260.69" width="5.5" height="5.5" fill="#fca15a" stroke="#7a7a7a" stroke-opacity="0.8" stroke-width="0.45"/>
<rect x="674.98" y="260.94" width="5" height="5" fill="#dcf1f7" stroke="#7a7a7a" stroke-opacity="0.8" stroke-width="0.45"/>
<rect x="395.79" y="273.88" width="2.5" height="2.5" fill="#fee497" stroke="#7a7a7a" stroke-opacity="0.8" stroke-width="0.45"/>
<rect x="407.38" y="273.78" width="2.7" height="2.7" fill="#fed989" stroke="#7a7a7a" stroke-opacity="0.8" stroke-width="0.45"/>
<rect x="418.81" y="273.53" width="3.2" height="3.2" fill="#ffeda4" stroke="#7a7a7a" stroke-opacity="0.8" stroke-width="0.45"/>
<rect x="429.95" y="272.98" width="4.3" height="4.3" fill="#f1f9dc" stroke="#7a7a7a" stroke-opacity="0.8" stroke-width="0.45"/>
<rect x="442.58" y="273.93" width="2.4" height="2.4" fill="#fed989" stroke="#7a7a7a" stroke-opacity="0.8" stroke-width="0.45"/>
<rect x="452.57" y="272.23" width="5.8" height="5.8" fill="#fdae61" stroke="#7a7a7a" stroke-opacity="0.8" stroke-width="0.45"/>
<rect x="466.25" y="274.23" width="1.8" height="1.8" fill="#fff8b5" stroke="#7a7a7a" stroke-opacity="0.8" stroke-width="0.45"/>
<rect x="476.89" y="273.18" width="3.9" height="3.9" fill="#ffce7f" stroke="#7a7a7a" stroke-opacity="0.8" stroke-width="0.45"/>
<rect x="489.27" y="273.88" width="2.5" height="2.5" fill="#fff2ab" stroke="#7a7a7a" stroke-opacity="0.8" stroke-width="0.45"/>
<rect x="500.71" y="273.63" width="3" height="3" fill="#f9fccb" stroke="#7a7a7a" stroke-opacity="0.8" stroke-width="0.45"/>
<rect x="513.24" y="274.48" width="1.3" height="1.3" fill="#fffdbc" stroke="#7a7a7a" stroke-opacity="0.8" stroke-width="0.45"/>
<rect x="523.68" y="273.23" width="3.8" height="3.8" fill="#f7fbd0" stroke="#7a7a7a" stroke-opacity="0.8" stroke-width="0.45"/>
<rect x="535.01" y="272.88" width="4.5" height="4.5" fill="#f1f9dc" stroke="#7a7a7a" stroke-opacity="0.8" stroke-width="0.45"/>
<rect x="548.2" y="274.38" width="1.5" height="1.5" fill="#fffbb8" stroke="#7a7a7a" stroke-opacity="0.8" stroke-width="0.45"/>
<rect x="559.63" y="274.13" width="2" height="2" fill="#fff2ab" stroke="#7a7a7a" stroke-opacity="0.8" stroke-width="0.45"/>
<rect x="569.92" y="272.73" width="4.8" height="4.8" fill="#febc6e" stroke="#7a7a7a" stroke-opacity="0.8" stroke-width="0.45"/>
<rect x="582.25" y="273.38" width="3.5" height="3.5" fill="#f7fbd0" stroke="#7a7a7a" stroke-opacity="0.8" stroke-width="0.45"/>
<rect x="594.94" y="274.38" width="1.5" height="1.5" fill="#fffbb8" stroke="#7a7a7a" stroke-opacity="0.8" stroke-width="0.45"/>
<rect x="605.97" y="273.73" width="2.8" height="2.8" fill="#fff2ab" stroke="#7a7a7a" stroke-opacity="0.8" stroke-width="0.45"/>
<rect x="617.66" y="273.73" width="2.8" height="2.8" fill="#fed989" stroke="#7a7a7a" stroke-opacity="0.8" stroke-width="0.45"/>
<rect x="629.39" y="273.78" width="2.7" height="2.7" fill="#fff2ab" stroke="#7a7a7a" stroke-opacity="0.8" stroke-width="0.45"/>
<rect x="640.78" y="273.48" width="3.3" height="3.3" fill="#f9fccb" stroke="#7a7a7a" stroke-opacity="0.8" stroke-width="0.45"/>
<rect x="652.46" y="273.48" width="3.3" height="3.3" fill="#f9fccb" stroke="#7a7a7a" stroke-opacity="0.8" stroke-width="0.45"/>
<rect x="663.65" y="272.98" width="4.3" height="4.3" fill="#f1f9dc" stroke="#7a7a7a" stroke-opacity="0.8" stroke-width="0.45"/>
<rect x="674.98" y="272.63" width="5" height="5" fill="#e8f5ec" stroke="#7a7a7a" stroke-opacity="0.8" stroke-width="0.45"/>
<rect x="394.94" y="284.71" width="4.2" height="4.2" fill="#f1f9dc" stroke="#7a7a7a" stroke-opacity="0.8" stroke-width="0.45"/>
<rect x="406.78" y="284.86" width="3.9" height="3.9" fill="#ffce7f" stroke="#7a7a7a" stroke-opacity="0.8" stroke-width="0.45"/>
<rect x="417.41" y="283.81" width="6" height="6" fill="#dcf1f7" stroke="#7a7a7a" stroke-opacity="0.8" stroke-width="0.45"/>
<rect x="430" y="284.71" width="4.2" height="4.2" fill="#ffce7f" stroke="#7a7a7a" stroke-opacity="0.8" stroke-width="0.45"/>
<rect x="442.13" y="285.16" width="3.3" height="3.3" fill="#fee090" stroke="#7a7a7a" stroke-opacity="0.8" stroke-width="0.45"/>
<rect x="452.07" y="283.41" width="6.8" height="6.8" fill="#fa9354" stroke="#7a7a7a" stroke-opacity="0.8" stroke-width="0.45"/>
<rect x="466.4" y="286.06" width="1.5" height="1.5" fill="#fff8b5" stroke="#7a7a7a" stroke-opacity="0.8" stroke-width="0.45"/>
<rect x="476.09" y="284.06" width="5.5" height="5.5" fill="#fdaa5f" stroke="#7a7a7a" stroke-opacity="0.8" stroke-width="0.45"/>
<rect x="488.62" y="284.91" width="3.8" height="3.8" fill="#ffce7f" stroke="#7a7a7a" stroke-opacity="0.8" stroke-width="0.45"/>
<rect x="501.56" y="286.16" width="1.3" height="1.3" fill="#fffdbc" stroke="#7a7a7a" stroke-opacity="0.8" stroke-width="0.45"/>
<rect x="511.14" y="284.06" width="5.5" height="5.5" fill="#fdaa5f" stroke="#7a7a7a" stroke-opacity="0.8" stroke-width="0.45"/>
<rect x="524.08" y="285.31" width="3" height="3" fill="#fff8b5" stroke="#7a7a7a" stroke-opacity="0.8" stroke-width="0.45"/>
<rect x="534.51" y="284.06" width="5.5" height="5.5" fill="#dcf1f7" stroke="#7a7a7a" stroke-opacity="0.8" stroke-width="0.45"/>
<rect x="547.2" y="285.06" width="3.5" height="3.5" fill="#fff8b5" stroke="#7a7a7a" stroke-opacity="0.8" stroke-width="0.45"/>
<rect x="559.88" y="286.06" width="1.5" height="1.5" fill="#fffbb8" stroke="#7a7a7a" stroke-opacity="0.8" stroke-width="0.45"/>
<rect x="569.42" y="283.91" width="5.8" height="5.8" fill="#fca15a" stroke="#7a7a7a" stroke-opacity="0.8" stroke-width="0.45"/>
<rect x="582.8" y="285.61" width="2.4" height="2.4" fill="#ffce7f" stroke="#7a7a7a" stroke-opacity="0.8" stroke-width="0.45"/>
<rect x="593.69" y="284.81" width="4" height="4" fill="#f7fbd0" stroke="#7a7a7a" stroke-opacity="0.8" stroke-width="0.45"/>
<rect x="605.62" y="285.06" width="3.5" height="3.5" fill="#ffce7f" stroke="#7a7a7a" stroke-opacity="0.8" stroke-width="0.45"/>
<rect x="616.31" y="284.06" width="5.5" height="5.5" fill="#fdaa5f" stroke="#7a7a7a" stroke-opacity="0.8" stroke-width="0.45"/>
<rect x="630.09" y="286.16" width="1.3" height="1.3" fill="#fffdbc" stroke="#7a7a7a" stroke-opacity="0.8" stroke-width="0.45"/>
<rect x="640.83" y="285.21" width="3.2" height="3.2" fill="#f9fccb" stroke="#7a7a7a" stroke-opacity="0.8" stroke-width="0.45"/>
<rect x="652.61" y="285.31" width="3" height="3" fill="#fff8b5" stroke="#7a7a7a" stroke-opacity="0.8" stroke-width="0.45"/>
<rect x="662.9" y="283.91" width="5.8" height="5.8" fill="#dcf1f7" stroke="#7a7a7a" stroke-opacity="0.8" stroke-width="0.45"/>
<rect x="675.38" y="284.71" width="4.2" height="4.2" fill="#f1f9dc" stroke="#7a7a7a" stroke-opacity="0.8" stroke-width="0.45"/>
<rect x="394.54" y="296" width="5" height="5" fill="#e5f5f0" stroke="#7a7a7a" stroke-opacity="0.8" stroke-width="0.45"/>
<rect x="406.78" y="296.55" width="3.9" height="3.9" fill="#ffce7f" stroke="#7a7a7a" stroke-opacity="0.8" stroke-width="0.45"/>
<rect x="418.66" y="296.75" width="3.5" height="3.5" fill="#f7fbd0" stroke="#7a7a7a" stroke-opacity="0.8" stroke-width="0.45"/>
<rect x="430.15" y="296.55" width="3.9" height="3.9" fill="#ffce7f" stroke="#7a7a7a" stroke-opacity="0.8" stroke-width="0.45"/>
<rect x="441.53" y="296.25" width="4.5" height="4.5" fill="#fec475" stroke="#7a7a7a" stroke-opacity="0.8" stroke-width="0.45"/>
<rect x="452.47" y="295.5" width="6" height="6" fill="#fdaa5f" stroke="#7a7a7a" stroke-opacity="0.8" stroke-width="0.45"/>
<rect x="465.15" y="296.5" width="4" height="4" fill="#ffce7f" stroke="#7a7a7a" stroke-opacity="0.8" stroke-width="0.45"/>
<rect x="475.34" y="295" width="7" height="7" fill="#f8854d" stroke="#7a7a7a" stroke-opacity="0.8" stroke-width="0.45"/>
<rect x="489.17" y="297.15" width="2.7" height="2.7" fill="#fff2ab" stroke="#7a7a7a" stroke-opacity="0.8" stroke-width="0.45"/>
<rect x="500.56" y="296.85" width="3.3" height="3.3" fill="#f7fbd0" stroke="#7a7a7a" stroke-opacity="0.8" stroke-width="0.45"/>
<rect x="510.64" y="295.25" width="6.5" height="6.5" fill="#fa9354" stroke="#7a7a7a" stroke-opacity="0.8" stroke-width="0.45"/>
<rect x="521.98" y="294.9" width="7.2" height="7.2" fill="#abd9e9" stroke="#7a7a7a" stroke-opacity="0.8" stroke-width="0.45"/>
<rect x="534.11" y="295.35" width="6.3" height="6.3" fill="#d1ecf4" stroke="#7a7a7a" stroke-opacity="0.8" stroke-width="0.45"/>
<rect x="545.7" y="295.25" width="6.5" height="6.5" fill="#c6e6f0" stroke="#7a7a7a" stroke-opacity="0.8" stroke-width="0.45"/>
<rect x="557.78" y="295.65" width="5.7" height="5.7" fill="#fdaa5f" stroke="#7a7a7a" stroke-opacity="0.8" stroke-width="0.45"/>
<rect x="569.57" y="295.75" width="5.5" height="5.5" fill="#fdaa5f" stroke="#7a7a7a" stroke-opacity="0.8" stroke-width="0.45"/>
<rect x="582.4" y="296.9" width="3.2" height="3.2" fill="#fff8b5" stroke="#7a7a7a" stroke-opacity="0.8" stroke-width="0.45"/>
<rect x="594.49" y="297.3" width="2.4" height="2.4" fill="#ffce7f" stroke="#7a7a7a" stroke-opacity="0.8" stroke-width="0.45"/>
<rect x="604.47" y="295.6" width="5.8" height="5.8" fill="#fca15a" stroke="#7a7a7a" stroke-opacity="0.8" stroke-width="0.45"/>
<rect x="616.46" y="295.9" width="5.2" height="5.2" fill="#feb568" stroke="#7a7a7a" stroke-opacity="0.8" stroke-width="0.45"/>
<rect x="628.99" y="296.75" width="3.5" height="3.5" fill="#f7fbd0" stroke="#7a7a7a" stroke-opacity="0.8" stroke-width="0.45"/>
<rect x="639.18" y="295.25" width="6.5" height="6.5" fill="#c6e6f0" stroke="#7a7a7a" stroke-opacity="0.8" stroke-width="0.45"/>
<rect x="649.76" y="294.15" width="8.7" height="8.7" fill="#5081ba" stroke="#7a7a7a" stroke-opacity="0.8" stroke-width="0.45"/>
<rect x="662.35" y="295.05" width="6.9" height="6.9" fill="#abd9e9" stroke="#7a7a7a" stroke-opacity="0.8" stroke-width="0.45"/>
<rect x="674.73" y="295.75" width="5.5" height="5.5" fill="#dcf1f7" stroke="#7a7a7a" stroke-opacity="0.8" stroke-width="0.45"/>
<path d="M391.2 257.4V304.14M402.88 257.4V304.14M414.57 257.4V304.14M426.25 257.4V304.14M437.94 257.4V304.14M449.62 257.4V304.14M461.31 257.4V304.14M473 257.4V304.14M484.68 257.4V304.14M496.37 257.4V304.14M508.05 257.4V304.14M519.74 257.4V304.14M531.42 257.4V304.14M543.11 257.4V304.14M554.79 257.4V304.14M566.48 257.4V304.14M578.16 257.4V304.14M589.85 257.4V304.14M601.53 257.4V304.14M613.22 257.4V304.14M624.9 257.4V304.14M636.59 257.4V304.14M648.27 257.4V304.14M659.95 257.4V304.14M671.64 257.4V304.14M683.33 257.4V304.14M391.2 257.4H683.33M391.2 269.08H683.33M391.2 280.77H683.33M391.2 292.45H683.33M391.2 304.14H683.33" stroke="#9a9a9a" stroke-width="0.9" fill="none"/>
<text x="392.89" y="265.74" text-anchor="middle" font-size="9.4" fill="#000" style="stroke-width:0.42px">*</text>
<text x="397.04" y="265.74" text-anchor="middle" font-size="9.4" fill="#000" style="stroke-width:0.42px">*</text>
<text x="401.19" y="265.74" text-anchor="middle" font-size="9.4" fill="#000" style="stroke-width:0.42px">*</text>
<text x="416.26" y="265.74" text-anchor="middle" font-size="9.4" fill="#000" style="stroke-width:0.42px">*</text>
<text x="420.41" y="265.74" text-anchor="middle" font-size="9.4" fill="#000" style="stroke-width:0.42px">*</text>
<text x="424.56" y="265.74" text-anchor="middle" font-size="9.4" fill="#000" style="stroke-width:0.42px">*</text>
<text x="486.37" y="265.74" text-anchor="middle" font-size="9.4" fill="#000" style="stroke-width:0.42px">*</text>
<text x="490.52" y="265.74" text-anchor="middle" font-size="9.4" fill="#000" style="stroke-width:0.42px">*</text>
<text x="494.67" y="265.74" text-anchor="middle" font-size="9.4" fill="#000" style="stroke-width:0.42px">*</text>
<text x="509.74" y="265.74" text-anchor="middle" font-size="9.4" fill="#000" style="stroke-width:0.42px">*</text>
<text x="513.89" y="265.74" text-anchor="middle" font-size="9.4" fill="#000" style="stroke-width:0.42px">*</text>
<text x="518.04" y="265.74" text-anchor="middle" font-size="9.4" fill="#000" style="stroke-width:0.42px">*</text>
<text x="546.87" y="265.74" text-anchor="middle" font-size="9.4" fill="#000" style="stroke-width:0.42px">*</text>
<text x="551.02" y="265.74" text-anchor="middle" font-size="9.4" fill="#000" style="stroke-width:0.42px">*</text>
<text x="568.17" y="265.74" text-anchor="middle" font-size="9.4" fill="#000" style="stroke-width:0.42px">*</text>
<text x="572.32" y="265.74" text-anchor="middle" font-size="9.4" fill="#000" style="stroke-width:0.42px">*</text>
<text x="576.47" y="265.74" text-anchor="middle" font-size="9.4" fill="#000" style="stroke-width:0.42px">*</text>
<text x="603.22" y="265.74" text-anchor="middle" font-size="9.4" fill="#000" style="stroke-width:0.42px">*</text>
<text x="607.37" y="265.74" text-anchor="middle" font-size="9.4" fill="#000" style="stroke-width:0.42px">*</text>
<text x="611.52" y="265.74" text-anchor="middle" font-size="9.4" fill="#000" style="stroke-width:0.42px">*</text>
<text x="638.28" y="265.74" text-anchor="middle" font-size="9.4" fill="#000" style="stroke-width:0.42px">*</text>
<text x="642.43" y="265.74" text-anchor="middle" font-size="9.4" fill="#000" style="stroke-width:0.42px">*</text>
<text x="646.58" y="265.74" text-anchor="middle" font-size="9.4" fill="#000" style="stroke-width:0.42px">*</text>
<text x="654.11" y="265.74" text-anchor="middle" font-size="9.4" fill="#000" style="stroke-width:0.42px">*</text>
<text x="665.8" y="265.74" text-anchor="middle" font-size="9.4" fill="#000" style="stroke-width:0.42px">*</text>
<text x="677.48" y="265.74" text-anchor="middle" font-size="9.4" fill="#000" style="stroke-width:0.42px">*</text>
<text x="455.47" y="277.43" text-anchor="middle" font-size="9.4" fill="#000" style="stroke-width:0.42px">*</text>
<text x="418.34" y="289.11" text-anchor="middle" font-size="9.4" fill="#000" style="stroke-width:0.42px">*</text>
<text x="422.49" y="289.11" text-anchor="middle" font-size="9.4" fill="#000" style="stroke-width:0.42px">*</text>
<text x="453.39" y="289.11" text-anchor="middle" font-size="9.4" fill="#000" style="stroke-width:0.42px">*</text>
<text x="457.54" y="289.11" text-anchor="middle" font-size="9.4" fill="#000" style="stroke-width:0.42px">*</text>
<text x="478.84" y="289.11" text-anchor="middle" font-size="9.4" fill="#000" style="stroke-width:0.42px">*</text>
<text x="513.89" y="289.11" text-anchor="middle" font-size="9.4" fill="#000" style="stroke-width:0.42px">*</text>
<text x="537.26" y="289.11" text-anchor="middle" font-size="9.4" fill="#000" style="stroke-width:0.42px">*</text>
<text x="572.32" y="289.11" text-anchor="middle" font-size="9.4" fill="#000" style="stroke-width:0.42px">*</text>
<text x="619.06" y="289.11" text-anchor="middle" font-size="9.4" fill="#000" style="stroke-width:0.42px">*</text>
<text x="663.72" y="289.11" text-anchor="middle" font-size="9.4" fill="#000" style="stroke-width:0.42px">*</text>
<text x="667.87" y="289.11" text-anchor="middle" font-size="9.4" fill="#000" style="stroke-width:0.42px">*</text>
<text x="455.47" y="300.8" text-anchor="middle" font-size="9.4" fill="#000" style="stroke-width:0.42px">*</text>
<text x="474.69" y="300.8" text-anchor="middle" font-size="9.4" fill="#000" style="stroke-width:0.42px">*</text>
<text x="478.84" y="300.8" text-anchor="middle" font-size="9.4" fill="#000" style="stroke-width:0.42px">*</text>
<text x="482.99" y="300.8" text-anchor="middle" font-size="9.4" fill="#000" style="stroke-width:0.42px">*</text>
<text x="511.82" y="300.8" text-anchor="middle" font-size="9.4" fill="#000" style="stroke-width:0.42px">*</text>
<text x="515.97" y="300.8" text-anchor="middle" font-size="9.4" fill="#000" style="stroke-width:0.42px">*</text>
<text x="521.43" y="300.8" text-anchor="middle" font-size="9.4" fill="#000" style="stroke-width:0.42px">*</text>
<text x="525.58" y="300.8" text-anchor="middle" font-size="9.4" fill="#000" style="stroke-width:0.42px">*</text>
<text x="529.73" y="300.8" text-anchor="middle" font-size="9.4" fill="#000" style="stroke-width:0.42px">*</text>
<text x="535.19" y="300.8" text-anchor="middle" font-size="9.4" fill="#000" style="stroke-width:0.42px">*</text>
<text x="539.34" y="300.8" text-anchor="middle" font-size="9.4" fill="#000" style="stroke-width:0.42px">*</text>
<text x="546.87" y="300.8" text-anchor="middle" font-size="9.4" fill="#000" style="stroke-width:0.42px">*</text>
<text x="551.02" y="300.8" text-anchor="middle" font-size="9.4" fill="#000" style="stroke-width:0.42px">*</text>
<text x="560.63" y="300.8" text-anchor="middle" font-size="9.4" fill="#000" style="stroke-width:0.42px">*</text>
<text x="572.32" y="300.8" text-anchor="middle" font-size="9.4" fill="#000" style="stroke-width:0.42px">*</text>
<text x="607.37" y="300.8" text-anchor="middle" font-size="9.4" fill="#000" style="stroke-width:0.42px">*</text>
<text x="640.35" y="300.8" text-anchor="middle" font-size="9.4" fill="#000" style="stroke-width:0.42px">*</text>
<text x="644.5" y="300.8" text-anchor="middle" font-size="9.4" fill="#000" style="stroke-width:0.42px">*</text>
<text x="649.96" y="300.8" text-anchor="middle" font-size="9.4" fill="#000" style="stroke-width:0.42px">*</text>
<text x="654.11" y="300.8" text-anchor="middle" font-size="9.4" fill="#000" style="stroke-width:0.42px">*</text>
<text x="658.26" y="300.8" text-anchor="middle" font-size="9.4" fill="#000" style="stroke-width:0.42px">*</text>
<text x="661.65" y="300.8" text-anchor="middle" font-size="9.4" fill="#000" style="stroke-width:0.42px">*</text>
<text x="665.8" y="300.8" text-anchor="middle" font-size="9.4" fill="#000" style="stroke-width:0.42px">*</text>
<text x="669.95" y="300.8" text-anchor="middle" font-size="9.4" fill="#000" style="stroke-width:0.42px">*</text>
<text x="677.48" y="300.8" text-anchor="middle" font-size="9.4" fill="#000" style="stroke-width:0.42px">*</text>
<text transform="translate(400.74 308.8) rotate(-90)" text-anchor="end" font-size="10.7" fill="#000">Micropepsaceae</text>
<text transform="translate(412.43 308.8) rotate(-90)" text-anchor="end" font-size="10.7" fill="#000">Sphingobacteriaceae</text>
<text transform="translate(424.11 308.8) rotate(-90)" text-anchor="end" font-size="10.7" fill="#000">Chitinophagaceae</text>
<text transform="translate(435.8 308.8) rotate(-90)" text-anchor="end" font-size="10.7" fill="#000">Xanthobacteraceae</text>
<text transform="translate(447.48 308.8) rotate(-90)" text-anchor="end" font-size="10.7" fill="#000">Microbacteriaceae</text>
<text transform="translate(459.17 308.8) rotate(-90)" text-anchor="end" font-size="10.7" fill="#000">Caulobacteraceae</text>
<text transform="translate(470.85 308.8) rotate(-90)" text-anchor="end" font-size="10.7" fill="#000">Burkholderiaceae</text>
<text transform="translate(482.54 308.8) rotate(-90)" text-anchor="end" font-size="10.7" fill="#000">Mitochondria</text>
<text transform="translate(494.22 308.8) rotate(-90)" text-anchor="end" font-size="10.7" fill="#000">67_14</text>
<text transform="translate(505.91 308.8) rotate(-90)" text-anchor="end" font-size="10.7" fill="#000">Gemmatimonadaceae</text>
<text transform="translate(517.59 308.8) rotate(-90)" text-anchor="end" font-size="10.7" fill="#000">Sphingomonadaceae</text>
<text transform="translate(529.28 308.8) rotate(-90)" text-anchor="end" font-size="10.7" fill="#000">Acidobacteriaceae</text>
<text transform="translate(540.96 308.8) rotate(-90)" text-anchor="end" font-size="10.7" fill="#000">Rhodanobacteraceae</text>
<text transform="translate(552.65 308.8) rotate(-90)" text-anchor="end" font-size="10.7" fill="#000">Solibacteraceae</text>
<text transform="translate(564.33 308.8) rotate(-90)" text-anchor="end" font-size="10.7" fill="#000">Rhizobiaceae</text>
<text transform="translate(576.02 308.8) rotate(-90)" text-anchor="end" font-size="10.7" fill="#000">Isosphaeraceae</text>
<text transform="translate(587.7 308.8) rotate(-90)" text-anchor="end" font-size="10.7" fill="#000">Solirubrobacteraceae</text>
<text transform="translate(599.39 308.8) rotate(-90)" text-anchor="end" font-size="10.7" fill="#000">Streptomycetaceae</text>
<text transform="translate(611.07 308.8) rotate(-90)" text-anchor="end" font-size="10.7" fill="#000">Microscillaceae</text>
<text transform="translate(622.76 308.8) rotate(-90)" text-anchor="end" font-size="10.7" fill="#000">Reyranellaceae</text>
<text transform="translate(634.44 308.8) rotate(-90)" text-anchor="end" font-size="10.7" fill="#000">env.OPS_17</text>
<text transform="translate(646.13 308.8) rotate(-90)" text-anchor="end" font-size="10.7" fill="#000">Acetobacteraceae</text>
<text transform="translate(657.81 308.8) rotate(-90)" text-anchor="end" font-size="10.7" fill="#000">Devosiaceae</text>
<text transform="translate(669.5 308.8) rotate(-90)" text-anchor="end" font-size="10.7" fill="#000">Cytophagaceae</text>
<text transform="translate(681.18 308.8) rotate(-90)" text-anchor="end" font-size="10.7" fill="#000">Nitrosomonadaceae</text>
<text x="88.7" y="267.34" text-anchor="end" font-size="10.75" fill="#000">Distance</text>
<text x="88.7" y="279.03" text-anchor="end" font-size="10.75" fill="#000">WSTN.Reduction</text>
<text x="88.7" y="290.71" text-anchor="end" font-size="10.75" fill="#000">Mass.Loss</text>
<text x="88.7" y="302.4" text-anchor="end" font-size="10.75" fill="#000">Bacterial.Shannon</text>
</svg>
</body></html>
